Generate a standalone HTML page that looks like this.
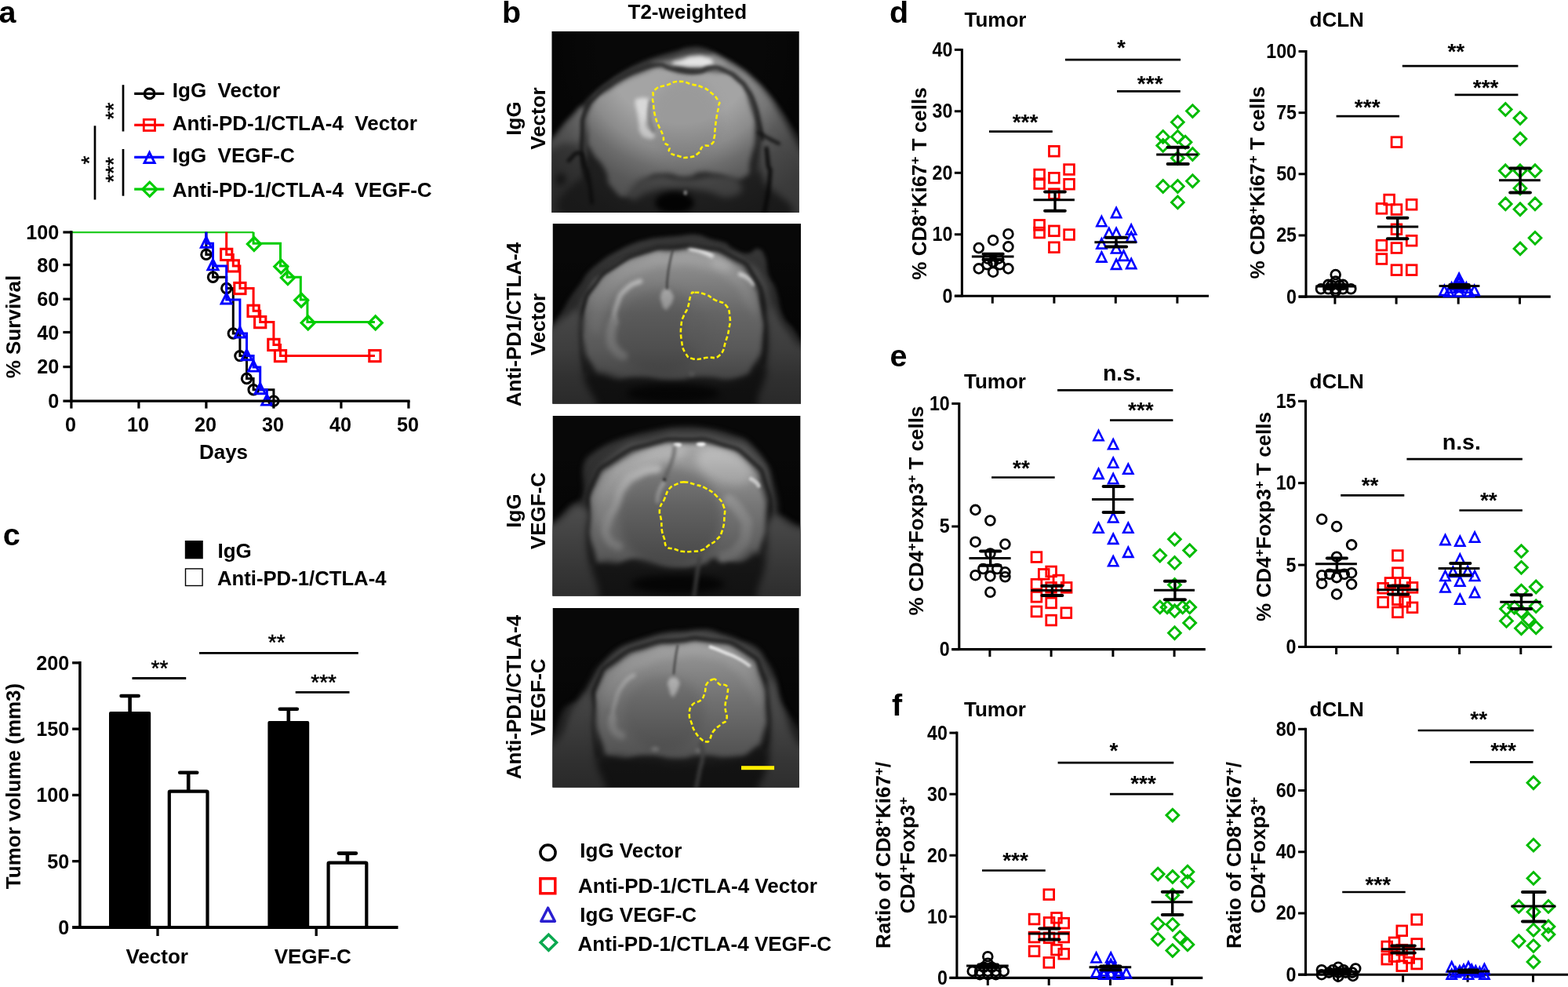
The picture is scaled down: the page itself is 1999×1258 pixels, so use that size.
<!DOCTYPE html>
<html lang="en">
<head>
<meta charset="utf-8">
<title>Figure</title>
<style>
html,body{margin:0;padding:0;background:#fff;}
body{width:1999px;height:1258px;overflow:hidden;}
svg{display:block;font-family:"Liberation Sans",sans-serif;}
</style>
</head>
<body>
<svg width="1999" height="1258" viewBox="0 0 1999 1258">
<rect width="1999" height="1258" fill="#fff"/>
<text x="-1.6" y="28.8" font-size="39.5" font-weight="bold" text-anchor="start" fill="#000">a</text>
<line x1="157" y1="108.2" x2="157" y2="167.5" stroke="#000" stroke-width="2.7" stroke-linecap="butt"/>
<line x1="121" y1="160.3" x2="121" y2="254.5" stroke="#000" stroke-width="2.7" stroke-linecap="butt"/>
<line x1="157" y1="190" x2="157" y2="249.7" stroke="#000" stroke-width="2.7" stroke-linecap="butt"/>
<text x="153.7" y="141.5" font-size="28" font-weight="normal" text-anchor="middle" fill="#000" transform="rotate(-90 153.7 141.5)" stroke="#000" stroke-width="0.5">**</text>
<text x="153.7" y="216.5" font-size="28" font-weight="normal" text-anchor="middle" fill="#000" transform="rotate(-90 153.7 216.5)" stroke="#000" stroke-width="0.5">***</text>
<text x="123.3" y="204" font-size="28" font-weight="normal" text-anchor="middle" fill="#000" transform="rotate(-90 123.3 204)" stroke="#000" stroke-width="0.5">*</text>
<line x1="171.2" y1="119.4" x2="209.3" y2="119.4" stroke="#000" stroke-width="3.2" stroke-linecap="butt"/>
<circle cx="190.6" cy="119.4" r="6.3" fill="none" stroke="#000" stroke-width="3.2"/>
<text x="219.8" y="124.3" font-size="26" font-weight="bold" text-anchor="start" fill="#000">IgG&#160;&#160;Vector</text>
<line x1="171.2" y1="159.4" x2="209.3" y2="159.4" stroke="#f00" stroke-width="3.2" stroke-linecap="butt"/>
<rect x="183.3" y="152.3" width="14.2" height="14.2" fill="none" stroke="#f00" stroke-width="2.8"/>
<text x="219.8" y="165.8" font-size="26" font-weight="bold" text-anchor="start" fill="#000">Anti-PD-1/CTLA-4&#160;&#160;Vector</text>
<line x1="171.2" y1="200.3" x2="209.3" y2="200.3" stroke="#00f" stroke-width="3.2" stroke-linecap="butt"/>
<path d="M190.6 194.3 L197.2 207.5 L184 207.5 Z" fill="none" stroke="#00f" stroke-width="2.9" stroke-linejoin="miter"/>
<text x="219.8" y="206.5" font-size="26" font-weight="bold" text-anchor="start" fill="#000">IgG&#160;&#160;VEGF-C</text>
<line x1="171.2" y1="241.2" x2="209.3" y2="241.2" stroke="#0c0" stroke-width="3.2" stroke-linecap="butt"/>
<path d="M190.8 232.1 L199.9 241.2 L190.8 250.3 L181.7 241.2 Z" fill="none" stroke="#0c0" stroke-width="3.1" stroke-linejoin="miter"/>
<text x="219.8" y="251.2" font-size="26" font-weight="bold" text-anchor="start" fill="#000">Anti-PD-1/CTLA-4&#160;&#160;VEGF-C</text>
<line x1="90.9" y1="296.1" x2="323.1" y2="296.1" stroke="#2c2" stroke-width="2.2" stroke-linecap="butt"/>
<polyline points="262.9,295.8 262.9,324.4 271.5,324.4 271.5,353.3 288.7,353.3 288.7,367.5 297.3,367.5 297.3,425 305.9,425 305.9,453.6 314.5,453.6 314.5,482.5 323.1,482.5 323.1,496.7 348.9,496.7 348.9,511.1" fill="none" stroke="#000" stroke-width="3" stroke-linejoin="miter"/>
<circle cx="262.9" cy="324.4" r="6.2" fill="none" stroke="#000" stroke-width="3"/>
<circle cx="271.5" cy="353.3" r="6.2" fill="none" stroke="#000" stroke-width="3"/>
<circle cx="288.7" cy="367.5" r="6.2" fill="none" stroke="#000" stroke-width="3"/>
<circle cx="297.3" cy="425" r="6.2" fill="none" stroke="#000" stroke-width="3"/>
<circle cx="305.9" cy="453.6" r="6.2" fill="none" stroke="#000" stroke-width="3"/>
<circle cx="314.5" cy="482.5" r="6.2" fill="none" stroke="#000" stroke-width="3"/>
<circle cx="323.1" cy="496.7" r="6.2" fill="none" stroke="#000" stroke-width="3"/>
<circle cx="348.9" cy="511.1" r="6.2" fill="none" stroke="#000" stroke-width="3"/>
<polyline points="323.1,295.8 323.1,310.2 357.5,310.2 357.5,338.9 366.1,338.9 366.1,353.3 383.3,353.3 383.3,381.9 391.9,381.9 391.9,410.6 477.9,410.6" fill="none" stroke="#0c0" stroke-width="3" stroke-linejoin="miter"/>
<path d="M323.9 302.5 L332.4 311 L323.9 319.5 L315.4 311 Z" fill="none" stroke="#0c0" stroke-width="3.2" stroke-linejoin="miter"/>
<path d="M358.3 331.2 L366.8 339.7 L358.3 348.2 L349.8 339.7 Z" fill="none" stroke="#0c0" stroke-width="3.2" stroke-linejoin="miter"/>
<path d="M366.9 345.6 L375.4 354.1 L366.9 362.6 L358.4 354.1 Z" fill="none" stroke="#0c0" stroke-width="3.2" stroke-linejoin="miter"/>
<path d="M384.1 374.2 L392.6 382.7 L384.1 391.2 L375.6 382.7 Z" fill="none" stroke="#0c0" stroke-width="3.2" stroke-linejoin="miter"/>
<path d="M392.7 402.8 L401.2 411.4 L392.7 419.9 L384.2 411.4 Z" fill="none" stroke="#0c0" stroke-width="3.2" stroke-linejoin="miter"/>
<path d="M478.7 402.8 L487.2 411.4 L478.7 419.9 L470.2 411.4 Z" fill="none" stroke="#0c0" stroke-width="3.2" stroke-linejoin="miter"/>
<polyline points="288.7,295.8 288.7,324.4 297.3,324.4 297.3,338.9 305.9,338.9 305.9,367.5 323.1,367.5 323.1,396.3 331.7,396.3 331.7,410.6 348.9,410.6 348.9,439.4 357.5,439.4 357.5,453.6 477.9,453.6" fill="none" stroke="#f00" stroke-width="3" stroke-linejoin="miter"/>
<rect x="281.6" y="317.3" width="14.2" height="14.2" fill="none" stroke="#f00" stroke-width="3.1"/>
<rect x="290.2" y="331.8" width="14.2" height="14.2" fill="none" stroke="#f00" stroke-width="3.1"/>
<rect x="298.8" y="360.4" width="14.2" height="14.2" fill="none" stroke="#f00" stroke-width="3.1"/>
<rect x="316" y="389.2" width="14.2" height="14.2" fill="none" stroke="#f00" stroke-width="3.1"/>
<rect x="324.6" y="403.5" width="14.2" height="14.2" fill="none" stroke="#f00" stroke-width="3.1"/>
<rect x="341.8" y="432.3" width="14.2" height="14.2" fill="none" stroke="#f00" stroke-width="3.1"/>
<rect x="350.4" y="446.5" width="14.2" height="14.2" fill="none" stroke="#f00" stroke-width="3.1"/>
<rect x="470.8" y="446.5" width="14.2" height="14.2" fill="none" stroke="#f00" stroke-width="3.1"/>
<polyline points="262.9,295.8 262.9,310.2 271.5,310.2 271.5,338.9 288.7,338.9 288.7,381.9 305.9,381.9 305.9,425 314.5,425 314.5,453.6 323.1,453.6 323.1,468 331.7,468 331.7,496.7 340.3,496.7 340.3,511.1" fill="none" stroke="#00f" stroke-width="3" stroke-linejoin="miter"/>
<path d="M262.9 302.2 L269.4 315.3 L256.3 315.3 Z" fill="none" stroke="#00f" stroke-width="2.9" stroke-linejoin="miter"/>
<path d="M271.5 330.8 L278.1 343.9 L264.9 343.9 Z" fill="none" stroke="#00f" stroke-width="2.9" stroke-linejoin="miter"/>
<path d="M288.7 373.9 L295.2 387 L282.1 387 Z" fill="none" stroke="#00f" stroke-width="2.9" stroke-linejoin="miter"/>
<path d="M305.9 416.9 L312.4 430 L299.3 430 Z" fill="none" stroke="#00f" stroke-width="2.9" stroke-linejoin="miter"/>
<path d="M314.5 445.6 L321.1 458.7 L307.9 458.7 Z" fill="none" stroke="#00f" stroke-width="2.9" stroke-linejoin="miter"/>
<path d="M323.1 460 L329.7 473.1 L316.6 473.1 Z" fill="none" stroke="#00f" stroke-width="2.9" stroke-linejoin="miter"/>
<path d="M331.7 488.6 L338.2 501.7 L325.1 501.7 Z" fill="none" stroke="#00f" stroke-width="2.9" stroke-linejoin="miter"/>
<path d="M340.3 503.1 L346.8 516.1 L333.7 516.1 Z" fill="none" stroke="#00f" stroke-width="2.9" stroke-linejoin="miter"/>
<line x1="90.9" y1="294.2" x2="90.9" y2="512.7" stroke="#000" stroke-width="3.4" stroke-linecap="butt"/>
<line x1="80.4" y1="511.1" x2="522.6" y2="511.1" stroke="#000" stroke-width="3.4" stroke-linecap="butt"/>
<line x1="80.4" y1="467.6" x2="90.9" y2="467.6" stroke="#000" stroke-width="3.2" stroke-linecap="butt"/>
<line x1="80.4" y1="423.5" x2="90.9" y2="423.5" stroke="#000" stroke-width="3.2" stroke-linecap="butt"/>
<line x1="80.4" y1="381.2" x2="90.9" y2="381.2" stroke="#000" stroke-width="3.2" stroke-linecap="butt"/>
<line x1="80.4" y1="337.6" x2="90.9" y2="337.6" stroke="#000" stroke-width="3.2" stroke-linecap="butt"/>
<line x1="80.4" y1="296" x2="90.9" y2="296" stroke="#000" stroke-width="3.2" stroke-linecap="butt"/>
<line x1="90.9" y1="511.1" x2="90.9" y2="520.6" stroke="#000" stroke-width="3.2" stroke-linecap="butt"/>
<line x1="176.9" y1="511.1" x2="176.9" y2="520.6" stroke="#000" stroke-width="3.2" stroke-linecap="butt"/>
<line x1="262.9" y1="511.1" x2="262.9" y2="520.6" stroke="#000" stroke-width="3.2" stroke-linecap="butt"/>
<line x1="348.9" y1="511.1" x2="348.9" y2="520.6" stroke="#000" stroke-width="3.2" stroke-linecap="butt"/>
<line x1="434.9" y1="511.1" x2="434.9" y2="520.6" stroke="#000" stroke-width="3.2" stroke-linecap="butt"/>
<line x1="520.9" y1="511.1" x2="520.9" y2="520.6" stroke="#000" stroke-width="3.2" stroke-linecap="butt"/>
<text transform="translate(75.3 520.3) scale(0.95 1)" font-size="26.5" font-weight="bold" text-anchor="end">0</text>
<text transform="translate(75.3 476.3) scale(0.95 1)" font-size="26.5" font-weight="bold" text-anchor="end">20</text>
<text transform="translate(75.3 432.6) scale(0.95 1)" font-size="26.5" font-weight="bold" text-anchor="end">40</text>
<text transform="translate(75.3 390.1) scale(0.95 1)" font-size="26.5" font-weight="bold" text-anchor="end">60</text>
<text transform="translate(75.3 346.6) scale(0.95 1)" font-size="26.5" font-weight="bold" text-anchor="end">80</text>
<text transform="translate(75.3 304.5) scale(0.95 1)" font-size="26.5" font-weight="bold" text-anchor="end">100</text>
<text transform="translate(90.1 550.3) scale(0.95 1)" font-size="26.5" font-weight="bold" text-anchor="middle">0</text>
<text transform="translate(176.1 550.3) scale(0.95 1)" font-size="26.5" font-weight="bold" text-anchor="middle">10</text>
<text transform="translate(262.1 550.3) scale(0.95 1)" font-size="26.5" font-weight="bold" text-anchor="middle">20</text>
<text transform="translate(348.1 550.3) scale(0.95 1)" font-size="26.5" font-weight="bold" text-anchor="middle">30</text>
<text transform="translate(434.1 550.3) scale(0.95 1)" font-size="26.5" font-weight="bold" text-anchor="middle">40</text>
<text transform="translate(520.1 550.3) scale(0.95 1)" font-size="26.5" font-weight="bold" text-anchor="middle">50</text>
<text x="26" y="416.5" font-size="26" font-weight="bold" text-anchor="middle" fill="#000" transform="rotate(-90 26 416.5)">% Survival</text>
<text x="285" y="585" font-size="26" font-weight="bold" text-anchor="middle" fill="#000">Days</text>
<text x="3.8" y="695" font-size="39.5" font-weight="bold" text-anchor="start" fill="#000">c</text>
<rect x="235.8" y="689" width="23" height="23.3" fill="#000"/>
<rect x="236.5" y="724.9" width="21.6" height="21.6" fill="#fff" stroke="#000" stroke-width="1.4"/>
<text x="277.5" y="711.3" font-size="26" font-weight="bold" text-anchor="start" fill="#000">IgG</text>
<text x="277" y="746" font-size="25.7" font-weight="bold" text-anchor="start" fill="#000">Anti-PD-1/CTLA-4</text>
<line x1="165.6" y1="887" x2="165.6" y2="908.9" stroke="#000" stroke-width="4.6" stroke-linecap="butt"/>
<line x1="154.6" y1="887" x2="176.6" y2="887" stroke="#000" stroke-width="4.6" stroke-linecap="round"/>
<rect x="139" y="907.1" width="53.2" height="274.9" rx="2" fill="#000"/>
<line x1="240.2" y1="984.7" x2="240.2" y2="1008.3" stroke="#000" stroke-width="4.6" stroke-linecap="butt"/>
<line x1="229.2" y1="984.7" x2="251.2" y2="984.7" stroke="#000" stroke-width="4.6" stroke-linecap="round"/>
<rect x="215.8" y="1008.6" width="48.7" height="173.4" rx="1" fill="#fff" stroke="#000" stroke-width="4.2"/>
<line x1="367.8" y1="903.8" x2="367.8" y2="920.7" stroke="#000" stroke-width="4.6" stroke-linecap="butt"/>
<line x1="356.8" y1="903.8" x2="378.8" y2="903.8" stroke="#000" stroke-width="4.6" stroke-linecap="round"/>
<rect x="341.4" y="918.9" width="52.8" height="263.1" rx="2" fill="#000"/>
<line x1="442.9" y1="1087.6" x2="442.9" y2="1099.4" stroke="#000" stroke-width="4.6" stroke-linecap="butt"/>
<line x1="431.9" y1="1087.6" x2="453.9" y2="1087.6" stroke="#000" stroke-width="4.6" stroke-linecap="round"/>
<rect x="418.6" y="1099.7" width="48.7" height="82.3" rx="1" fill="#fff" stroke="#000" stroke-width="4.2"/>
<line x1="101.9" y1="843.1" x2="101.9" y2="1183.7" stroke="#000" stroke-width="3.5" stroke-linecap="butt"/>
<line x1="92.1" y1="1182" x2="507.5" y2="1182" stroke="#000" stroke-width="3.8" stroke-linecap="butt"/>
<line x1="92.1" y1="1097.7" x2="101.9" y2="1097.7" stroke="#000" stroke-width="3.3" stroke-linecap="butt"/>
<line x1="92.1" y1="1013.4" x2="101.9" y2="1013.4" stroke="#000" stroke-width="3.3" stroke-linecap="butt"/>
<line x1="92.1" y1="929.1" x2="101.9" y2="929.1" stroke="#000" stroke-width="3.3" stroke-linecap="butt"/>
<line x1="92.1" y1="844.8" x2="101.9" y2="844.8" stroke="#000" stroke-width="3.3" stroke-linecap="butt"/>
<line x1="201" y1="1182" x2="201" y2="1193" stroke="#000" stroke-width="3.3" stroke-linecap="butt"/>
<line x1="403.2" y1="1182" x2="403.2" y2="1193" stroke="#000" stroke-width="3.3" stroke-linecap="butt"/>
<text transform="translate(88.3 1190.8) scale(0.95 1)" font-size="26.5" font-weight="bold" text-anchor="end">0</text>
<text transform="translate(88.3 1106.5) scale(0.95 1)" font-size="26.5" font-weight="bold" text-anchor="end">50</text>
<text transform="translate(88.3 1022.2) scale(0.95 1)" font-size="26.5" font-weight="bold" text-anchor="end">100</text>
<text transform="translate(88.3 937.9) scale(0.95 1)" font-size="26.5" font-weight="bold" text-anchor="end">150</text>
<text transform="translate(88.3 853.6) scale(0.95 1)" font-size="26.5" font-weight="bold" text-anchor="end">200</text>
<text x="25.8" y="1002" font-size="26" font-weight="bold" text-anchor="middle" fill="#000" transform="rotate(-90 25.8 1002)">Tumor volume (mm3)</text>
<text x="200.2" y="1227.7" font-size="26" font-weight="bold" text-anchor="middle" fill="#000">Vector</text>
<text x="398.8" y="1227.7" font-size="26" font-weight="bold" text-anchor="middle" fill="#000">VEGF-C</text>
<line x1="168.5" y1="864.5" x2="237.2" y2="864.5" stroke="#000" stroke-width="2.8" stroke-linecap="butt"/>
<text x="203.5" y="860.6" font-size="28" font-weight="normal" text-anchor="middle" fill="#000" stroke="#000" stroke-width="0.5">**</text>
<line x1="254" y1="832.3" x2="456.8" y2="832.3" stroke="#000" stroke-width="2.8" stroke-linecap="butt"/>
<text x="352.7" y="827.5" font-size="28" font-weight="normal" text-anchor="middle" fill="#000" stroke="#000" stroke-width="0.5">**</text>
<line x1="376.7" y1="882.3" x2="445.5" y2="882.3" stroke="#000" stroke-width="2.8" stroke-linecap="butt"/>
<text x="412.6" y="878.5" font-size="28" font-weight="normal" text-anchor="middle" fill="#000" stroke="#000" stroke-width="0.5">***</text>
<text x="639.9" y="28.8" font-size="39.5" font-weight="bold" text-anchor="start" fill="#000">b</text>
<text x="800.5" y="23.6" font-size="26" font-weight="bold" text-anchor="start" fill="#000">T2-weighted</text>
<defs><filter id="f1_1p5" color-interpolation-filters="sRGB" filterUnits="userSpaceOnUse" x="663.4" y="-0.1" width="395.4" height="311.1"><feGaussianBlur stdDeviation="1.5"/></filter><filter id="f1_2" color-interpolation-filters="sRGB" filterUnits="userSpaceOnUse" x="663.4" y="-0.1" width="395.4" height="311.1"><feGaussianBlur stdDeviation="2"/></filter><filter id="f1_2p5" color-interpolation-filters="sRGB" filterUnits="userSpaceOnUse" x="663.4" y="-0.1" width="395.4" height="311.1"><feGaussianBlur stdDeviation="2.5"/></filter><filter id="f1_3" color-interpolation-filters="sRGB" filterUnits="userSpaceOnUse" x="663.4" y="-0.1" width="395.4" height="311.1"><feGaussianBlur stdDeviation="3"/></filter><filter id="f1_3p5" color-interpolation-filters="sRGB" filterUnits="userSpaceOnUse" x="663.4" y="-0.1" width="395.4" height="311.1"><feGaussianBlur stdDeviation="3.5"/></filter><filter id="f1_4" color-interpolation-filters="sRGB" filterUnits="userSpaceOnUse" x="663.4" y="-0.1" width="395.4" height="311.1"><feGaussianBlur stdDeviation="4"/></filter><filter id="f1_5" color-interpolation-filters="sRGB" filterUnits="userSpaceOnUse" x="663.4" y="-0.1" width="395.4" height="311.1"><feGaussianBlur stdDeviation="5"/></filter><filter id="f1_7" color-interpolation-filters="sRGB" filterUnits="userSpaceOnUse" x="663.4" y="-0.1" width="395.4" height="311.1"><feGaussianBlur stdDeviation="7"/></filter></defs>
<clipPath id="cp1"><rect x="703.4" y="39.9" width="315.4" height="231.1"/></clipPath>
<g clip-path="url(#cp1)">
<rect x="703.4" y="39.9" width="315.4" height="231.1" fill="#080808"/>
<path d="M683.1 200.9 C699 184.4 695.2 188 703.7 178 C712.3 168 711 168.2 719.6 158 C728.3 147.8 731.6 144.1 740.9 134.3 C750.2 124.5 750.8 123.4 759.4 115.8 C768 108.3 769.2 108 777.9 101.9 C786.5 95.9 787.8 95 796.3 90 C804.9 85 806 84.6 814.6 80.7 C823.2 76.8 824.7 76.3 833.3 73.3 C841.9 70.3 844.4 69.9 851.6 67.8 C858.8 65.6 857.8 65.9 864.1 64.2 C870.4 62.4 870.9 60.9 878.6 60.2 C886.2 59.5 888.3 58.9 896.9 61 C905.5 63.1 906.7 64.8 915.4 69.3 C924 73.8 925.2 74.7 933.8 80.3 C942.5 85.8 943.7 86.3 952.3 93.2 C960.9 100.1 963.3 102.6 970.8 109.9 C978.3 117.2 978.1 116.8 984.5 124.6 C990.9 132.3 993 135.4 998.4 143.1 C1003.8 150.8 1002.3 149.6 1007.5 157.6 C1012.8 165.5 1014 166.9 1020.9 177 C1027.7 187.1 1024.7 184.2 1036.8 200.9 C1048.8 217.6 1064.2 218.9 1072.5 248.6 C1080.9 278.2 1174.5 309.5 1072.5 328 C970.5 346.6 737.4 346.6 635.4 328 C533.4 309.5 624.3 278.2 635.4 248.6 C646.5 218.9 667.1 217.3 683.1 200.9Z" fill="#3a3a3a" filter="url(#f1_2p5)"/>
<path d="M718.8 189 C720.2 171.7 722.8 175.7 734.7 157.2 C746.7 138.6 741.4 146.6 754.6 133.3 C767.9 120.1 761.2 127 774.5 117.4 C787.7 107.8 779.8 113.1 794.3 104.5 C808.9 95.9 803.6 98.5 818.2 91.6 C832.8 84.6 826.1 87.6 838.1 83.6 C850 79.7 846 77.7 854 79.7 C861.9 81.7 868.5 85 861.9 89.6 C855.3 94.2 852.6 87.6 834.1 93.6 C815.5 99.5 823.5 97.6 806.3 107.5 C789 117.4 797 112.1 782.4 123.4 C767.9 134.6 773.2 127.4 762.6 141.3 C752 155.2 756.6 147.9 750.6 165.1 C744.7 182.3 751.3 178.4 744.7 192.9 C738.1 207.5 739.4 210.2 730.8 208.8 C722.2 207.5 717.5 206.2 718.8 189Z" fill="#5c5c5c" filter="url(#f1_3)"/>
<path d="M699 189 C702.3 175 702.9 180.3 712.9 167.1 C722.8 153.9 718.2 159.2 728.8 149.2 C739.4 139.3 738.6 134.6 744.7 137.3 C750.8 139.9 747.4 142.6 747.1 157.2 C746.7 171.7 744.5 166.4 743.7 181 C742.9 195.6 751 192.9 744.7 200.9 C738.4 208.8 738.7 202.2 724.8 204.9 C710.9 207.5 711.6 214.1 702.9 208.8 C694.3 203.5 695.7 202.9 699 189Z" fill="#9a9a9a" filter="url(#f1_3p5)"/>
<path d="M905.6 70.7 C911.6 67.1 911.6 71.4 923.5 76.7 C935.4 82 929.5 78.7 941.4 86.6 C953.3 94.6 947.3 89.6 959.3 100.5 C971.2 111.5 965.9 105.2 977.1 119.4 C988.4 133.7 983.1 127.4 993 143.3 C1003 159.2 996.4 147.9 1007 167.1 C1017.5 186.3 1014.9 180.3 1024.8 200.9 C1034.8 221.4 1032.8 199.6 1036.8 228.7 C1040.7 257.8 1055.3 268.4 1036.8 288.3 C1018.2 308.2 1002.3 314.8 981.1 288.3 C959.9 261.8 976.5 247.2 973.2 208.8 C969.9 170.4 975.2 198.2 971.2 173.1 C967.2 147.9 969.9 155.8 961.3 133.3 C952.6 110.8 957.3 119.4 945.4 105.5 C933.4 91.6 938.7 97.6 925.5 91.6 C912.2 85.6 912.2 94.6 905.6 87.6 C899 80.7 899.7 74.4 905.6 70.7Z" fill="#8a8a8a" filter="url(#f1_3p5)"/>
<path d="M973.2 181 C979.8 146.6 979.8 178.4 993 185 C1006.3 191.6 998.3 186.3 1012.9 200.9 C1027.5 215.4 1028.8 199.6 1036.8 228.7 C1044.7 257.8 1057.9 268.4 1036.8 288.3 C1015.6 308.2 994.4 324.1 973.2 288.3 C952 252.5 966.6 215.4 973.2 181Z" fill="#868686" filter="url(#f1_5)" opacity="0.9"/>
<path d="M683.1 208.8 C691 175.7 692.4 197.6 706.9 189 C721.5 180.3 714.9 181.7 726.8 183 C738.7 184.3 736.1 177.7 742.7 192.9 C749.3 208.2 742.7 196.9 746.7 228.7 C750.6 260.5 775.8 268.4 754.6 288.3 C733.4 308.2 706.9 314.8 683.1 288.3 C659.2 261.8 675.1 241.9 683.1 208.8Z" fill="#666" filter="url(#f1_5)"/>
<path d="M832.1 82.1 C825.5 78.7 840 79.9 854 76.1 C867.9 72.3 860.6 73.2 873.8 70.7 C887.1 68.3 881.8 68.1 893.7 68.7 C905.6 69.4 899 68.3 909.6 72.7 C920.2 77.2 926.8 77.6 925.5 82.1 C924.2 86.5 922.8 84.7 905.6 86 C888.4 87.4 898.3 87.4 873.8 86 C849.3 84.7 838.7 85.4 832.1 82.1Z" fill="#9a9a9a" filter="url(#f1_3)" opacity="0.7"/>
<path d="M856.9 80.7 C856.9 78 860.9 78.9 869.9 76.1 C878.8 73.2 873.8 73.2 883.8 72.1 C893.7 71 891.4 70.5 899.7 72.7 C907.9 74.9 907.3 74.9 908.6 78.7 C909.9 82.5 911.2 81.9 903.6 84 C896 86.2 897 85.2 885.7 85.2 C874.5 85.2 879.5 85.6 869.9 84 C860.2 82.5 856.9 83.3 856.9 80.7Z" fill="#e4e4e4" filter="url(#f1_2p5)"/>
<path d="M750.6 218.8 C766.5 202.2 759.9 234 794.3 238.6 C828.8 243.3 814.2 234.7 854 232.7 C893.7 230.7 880.4 236.6 913.6 232.7 C946.7 228.7 933.4 222.1 953.3 220.7 C973.2 219.4 965.2 206.2 973.2 228.7 C981.1 251.2 1052.7 268.4 977.1 288.3 C901.6 308.2 822.2 311.5 746.7 288.3 C671.2 265.1 734.7 235.3 750.6 218.8Z" fill="#3c3c3c" filter="url(#f1_5)"/>
<path d="M749 173.1 C748.7 153.9 743.2 155.5 753.6 135.3 C764.1 115.1 757.6 127 780.4 112.5 C803.3 97.9 800.3 100.4 822.2 91.6 C844 82.8 828.8 85.5 846 86 C863.2 86.6 852.6 91.5 873.8 93.2 C895 94.9 887.4 88.5 909.6 91.2 C931.8 93.8 924.4 85.8 940.4 101.1 C956.4 116.5 950.2 114.6 957.7 137.3 C965.2 159.9 963 147.9 962.8 169.1 C962.7 190.3 962.4 181.7 957.3 200.9 C952.1 220.1 961.9 219.8 947.3 226.7 C932.8 233.7 931.4 224.1 913.6 221.7 C895.7 219.4 906.9 218.4 893.7 219.8 C880.4 221.1 889.7 225.1 873.8 225.7 C857.9 226.4 863.2 220.4 846 221.7 C828.8 223.1 836.7 220.4 822.2 229.7 C807.6 239 816.2 246.2 802.3 249.6 C788.4 252.9 791 251.2 780.4 239.6 C769.8 228 779.1 230.4 770.5 214.8 C761.9 199.2 761.8 206.8 754.6 192.9 C747.5 179 749.4 192.3 749 173.1Z" fill="#a4a4a4" filter="url(#f1_3)"/>
<ellipse cx="873.8" cy="153.2" rx="45.7" ry="51.7" fill="#989898" filter="url(#f1_7)" opacity="0.8"/>
<path d="M806.3 236.6 C815.5 226.7 811.6 227.4 834.1 224.7 C856.6 222.1 847.3 228.7 873.8 228.7 C900.3 228.7 891 224.1 913.6 224.7 C936.1 225.4 934.8 222.1 941.4 230.7 C948 239.3 949.3 246.6 933.4 250.6 C917.5 254.5 918.2 245.9 893.7 242.6 C869.2 239.3 881.1 240 859.9 240.6 C838.7 241.3 848 240 830.1 244.6 C812.2 249.2 814.2 257.2 806.3 254.5 C798.3 251.9 797 246.6 806.3 236.6Z" fill="#7a7a7a" filter="url(#f1_4)"/>
<path d="M748.6 228.7 C746.7 220.7 744.8 223.4 742.7 204.9 C740.6 186.3 741.1 194.3 742.3 173.1 C743.5 151.9 740.2 158.5 746.3 141.3 C752.4 124 750 132.8 760.6 121.4 C771.1 110 765.9 115.6 777.9 107.1 C789.8 98.6 784.1 102.2 796.3 96 C808.6 89.7 800.8 92.9 814.6 88.4 C828.5 83.9 825.5 83.3 837.9 82.5 C850.2 81.7 844.2 84.2 851.6 86 C858.9 87.9 847.9 86.2 859.9 88 C872 89.9 872.4 92.1 887.7 91.6 C903.1 91.1 893.8 86.9 906 86.4 C918.3 86 912.2 84.8 924.5 90.2 C936.8 95.6 933.7 94.8 943 102.7 C952.2 110.6 946.2 104 952.3 113.8 C958.5 123.7 956.5 118.3 961.5 132.3 C966.4 146.4 963.8 141.1 967.2 156 C970.6 170.9 970.1 170 971.6 177" fill="none" stroke="#2c2c2c" stroke-width="5" stroke-linecap="round" filter="url(#f1_2)"/>
<ellipse cx="859.9" cy="258.5" rx="24.8" ry="13.9" fill="#060606" filter="url(#f1_3p5)"/>
<ellipse cx="873.8" cy="245.6" rx="2.4" ry="3.2" fill="#e0e0e0" filter="url(#f1_1p5)"/>
<path d="M809.8 129.3 C810.5 123.4 809.4 126.8 814.2 125.4 C819 123.9 819.6 123.7 824.2 125 C828.7 126.3 827.4 121.3 827.7 129.3 C828.1 137.4 826.3 138.6 825.1 149.2 C824 159.8 821.8 154.5 824.2 161.1 C826.5 167.8 828.8 164.5 832.1 169.1 C835.4 173.7 836.7 172.7 834.1 175 C831.4 177.4 830.1 178 824.2 176 C818.2 174.1 819.5 175.4 816.2 169.1 C812.9 162.8 815.5 165.8 814.2 157.2 C812.9 148.6 813.7 152.5 812.2 143.3 C810.8 134 809.2 135.3 809.8 129.3Z" fill="#d8d8d8" filter="url(#f1_2p5)"/>
<path d="M829.3 129.3 C828.9 136 826.9 136.6 828.1 149.2 C829.4 161.8 831.4 161.1 833.1 167.1" fill="none" stroke="#7a7a7a" stroke-width="3.5" stroke-linecap="round" filter="url(#f1_2)"/>
<path d="M724.8 204.9 C729.4 201.5 732.1 193.6 738.7 194.9 C745.3 196.2 740.7 197.6 744.7 208.8 C748.6 220.1 747.3 212.1 750.6 228.7 C753.9 245.3 753.3 248.6 754.6 258.5" fill="none" stroke="#181818" stroke-width="4.5" stroke-linecap="round" filter="url(#f1_2)"/>
<path d="M967.2 169.1 C971.8 171.7 972.5 172.4 981.1 177 C989.7 181.7 989.1 181 993 183" fill="none" stroke="#1c1c1c" stroke-width="4" stroke-linecap="round" filter="url(#f1_2)"/>
<path d="M977.1 189 C977.8 195.6 977.8 195.6 979.1 208.8 C980.5 222.1 983.1 205.5 981.1 228.7 C979.1 251.9 975.8 261.8 973.2 278.4" fill="none" stroke="#101010" stroke-width="5" stroke-linecap="round" filter="url(#f1_2)"/>
<ellipse cx="714.9" cy="228.7" rx="6" ry="7.9" fill="#2a2a2a" filter="url(#f1_4)"/>
<radialGradient id="rg1" gradientUnits="userSpaceOnUse" cx="868" cy="62" r="260"><stop offset="0.000" stop-color="#000" stop-opacity="0"/><stop offset="0.365" stop-color="#000" stop-opacity="0"/><stop offset="0.500" stop-color="#000" stop-opacity="0.15"/><stop offset="0.596" stop-color="#000" stop-opacity="0.34"/><stop offset="0.692" stop-color="#000" stop-opacity="0.46"/><stop offset="0.846" stop-color="#000" stop-opacity="0.56"/><stop offset="1.000" stop-color="#000" stop-opacity="0.6"/></radialGradient>
<rect x="701.4" y="37.9" width="319.4" height="235.1" fill="url(#rg1)"/>
<path d="M865.9 103.9 C876.5 103.6 872.5 105.3 881.8 107.5 C891 109.7 885.7 107.2 893.7 110.5 C901.6 113.8 898.3 111.5 905.6 117.4 C912.9 123.4 912 122.4 915.6 128.4 C919.1 134.3 916.8 128.4 916.1 135.3 C915.5 142.3 915.1 139.3 913.6 149.2 C912 159.2 912.6 156.5 911.6 165.1 C910.6 173.7 912.2 168.8 910.6 175 C908.9 181.3 911.6 180 906.6 184 C901.6 188 901 183.3 895.7 187 C890.4 190.6 896.7 190.4 890.7 194.9 C884.8 199.4 886.7 199.3 877.8 200.5 C868.9 201.7 871.8 200.7 863.9 198.5 C855.9 196.3 857.6 197.8 854 193.9 C850.3 190.1 855.3 191.3 853 187 C850.6 182.7 849.7 186 847 181 C844.4 176 847.3 178.7 845 172.1 C842.7 165.4 843.4 169.4 840 161.1 C836.7 152.9 837.4 156.5 835.1 147.2 C832.8 138 834 141.3 833.1 133.3 C832.2 125.4 831.5 130 832.5 123.4 C833.5 116.8 830.2 118.4 836.1 113.5 C841.9 108.5 840 111.7 850 108.5 C859.9 105.3 855.3 104.2 865.9 103.9Z" fill="none" stroke="#ffee00" stroke-width="2.6" stroke-linecap="butt" stroke-dasharray="5.5 3"/>
</g>
<defs><filter id="f2_1p5" color-interpolation-filters="sRGB" filterUnits="userSpaceOnUse" x="664.5" y="245.1" width="396.5" height="309.3"><feGaussianBlur stdDeviation="1.5"/></filter><filter id="f2_2" color-interpolation-filters="sRGB" filterUnits="userSpaceOnUse" x="664.5" y="245.1" width="396.5" height="309.3"><feGaussianBlur stdDeviation="2"/></filter><filter id="f2_2p5" color-interpolation-filters="sRGB" filterUnits="userSpaceOnUse" x="664.5" y="245.1" width="396.5" height="309.3"><feGaussianBlur stdDeviation="2.5"/></filter><filter id="f2_3" color-interpolation-filters="sRGB" filterUnits="userSpaceOnUse" x="664.5" y="245.1" width="396.5" height="309.3"><feGaussianBlur stdDeviation="3"/></filter><filter id="f2_3p5" color-interpolation-filters="sRGB" filterUnits="userSpaceOnUse" x="664.5" y="245.1" width="396.5" height="309.3"><feGaussianBlur stdDeviation="3.5"/></filter><filter id="f2_4" color-interpolation-filters="sRGB" filterUnits="userSpaceOnUse" x="664.5" y="245.1" width="396.5" height="309.3"><feGaussianBlur stdDeviation="4"/></filter><filter id="f2_5" color-interpolation-filters="sRGB" filterUnits="userSpaceOnUse" x="664.5" y="245.1" width="396.5" height="309.3"><feGaussianBlur stdDeviation="5"/></filter><filter id="f2_6" color-interpolation-filters="sRGB" filterUnits="userSpaceOnUse" x="664.5" y="245.1" width="396.5" height="309.3"><feGaussianBlur stdDeviation="6"/></filter><filter id="f2_7" color-interpolation-filters="sRGB" filterUnits="userSpaceOnUse" x="664.5" y="245.1" width="396.5" height="309.3"><feGaussianBlur stdDeviation="7"/></filter></defs>
<clipPath id="cp2"><rect x="704.5" y="285.1" width="316.5" height="229.3"/></clipPath>
<g clip-path="url(#cp2)">
<rect x="704.5" y="285.1" width="316.5" height="229.3" fill="#080808"/>
<path d="M683.1 445.9 C699.3 427.6 697.9 425.3 704.9 415.1 C712 404.9 708.1 410.6 713.3 402.2 C718.5 393.7 720.7 388.5 727.2 378.7 C733.6 369 735.6 367.9 740.9 360.4 C746.2 353 743.6 353.7 750 346.9 C756.5 340.1 759.9 337.5 768.5 331.2 C777.1 325 778.4 324.8 787 320.1 C795.6 315.4 796.9 314.4 805.5 311 C814.1 307.5 815.3 307.3 824 305.4 C832.6 303.5 833.1 303.7 842.4 302.6 C851.8 301.6 853.5 301.7 864.1 300.8 C874.7 300 878 298.1 887.7 299 C897.5 300 897.4 302.3 906 304.8 C914.6 307.3 918 306.8 924.5 309.6 C931 312.4 927.3 313.6 933.8 316.7 C940.3 319.9 944.8 323 952.3 323.1 C959.8 323.2 960.6 316.1 966 317.1 C971.4 318.2 972.1 319.9 975.4 327.7 C978.6 335.4 976.7 340.8 979.9 350.5 C983.2 360.2 985 357.1 989.3 369.2 C993.6 381.2 993 390.4 998.4 402.2 C1003.8 413.9 1006.1 410.4 1012.3 419.7 C1018.5 428.9 1019.1 431.1 1024.8 441.9 C1030.5 452.7 1025.6 453.7 1036.8 465.7 C1047.9 477.8 1064.2 468.5 1072.5 493.6 C1080.9 518.6 1174.5 554.5 1072.5 573 C970.5 591.6 737.4 591.6 635.4 573 C533.4 554.5 624.3 523.2 635.4 493.6 C646.5 463.9 666.9 464.2 683.1 445.9Z" fill="#363636" filter="url(#f2_2p5)"/>
<path d="M724.8 434 C727.5 405.5 726.8 419.4 734.7 398.2 C742.7 377 736.7 386.9 748.6 370.4 C760.6 353.8 753.9 361.1 770.5 348.5 C787.1 335.9 778.5 341.6 798.3 332.6 C818.2 323.7 808.3 327.3 830.1 321.7 C852 316.1 842.7 317.7 863.9 315.7 C885.1 313.7 873.8 313.7 893.7 315.7 C913.6 317.7 903.6 315.4 923.5 321.7 C943.4 328 936.7 323.7 953.3 334.6 C969.9 345.5 963.2 338.6 973.2 354.5 C983.1 370.4 976.5 362.4 983.1 382.3 C989.7 402.2 985.8 395.5 993 414.1 C1000.3 432.6 998.3 418.1 1005 437.9 C1011.6 457.8 1020.2 455.2 1012.9 473.7 C1005.6 492.2 994.4 513.4 983.1 493.6 C971.8 473.7 988.4 459.1 979.1 414.1 C969.9 369 983.8 388.9 955.3 358.5 C926.8 328 934.1 333.9 893.7 322.7 C853.3 311.4 873.2 313.4 834.1 324.7 C795 335.9 805.6 330 776.5 356.5 C747.3 383 757.9 371.7 746.7 404.2 C735.4 436.6 749.3 427.3 742.7 453.8 C736.1 480.3 732.8 490.3 726.8 483.6 C720.8 477 722.2 462.4 724.8 434Z" fill="#555" filter="url(#f2_3p5)"/>
<path d="M743.7 414.1 C745.7 392.2 738.4 397.9 750.6 374.3 C762.9 350.8 755.9 360.4 780.4 343.5 C804.9 326.7 799 331.4 824.2 323.7 C849.3 315.9 832.8 321.4 855.9 320.3 C879.1 319.2 869.2 316.5 893.7 320.3 C918.2 324.1 908.6 319.6 929.5 331.6 C950.3 343.7 942.8 335.6 956.3 356.5 C969.7 377.3 964.5 369.7 969.8 394.2 C975.1 418.7 974.7 406.8 972.2 430 C969.7 453.2 972.5 446.5 962.2 463.8 C952 481 964.2 476 941.4 481.6 C918.5 487.3 921.5 479.7 893.7 480.6 C865.9 481.6 884.4 484.6 857.9 484.6 C831.4 484.6 842 480.3 814.2 480.6 C786.4 481 794.3 491.2 774.5 485.6 C754.6 480 764.5 479 754.6 463.8 C744.7 448.5 748.3 456.5 744.7 439.9 C741 423.4 741.7 435.9 743.7 414.1Z" fill="#989898" filter="url(#f2_3)"/>
<path d="M752.6 398.2 C755.3 375.7 747.3 381 770.5 358.5 C793.7 335.9 793.7 341.6 822.2 330.6 C850.6 319.7 832.1 327.3 855.9 325.7 C879.8 324 869.2 321.7 893.7 325.7 C918.2 329.6 908.9 323.3 929.5 337.6 C950 351.8 943.4 346.2 955.3 368.4 C967.2 390.6 967.2 398.2 965.2 404.2 C963.2 410.1 959.9 400.8 949.3 386.3 C938.7 371.7 952 375 933.4 360.4 C914.9 345.9 919.5 349.5 893.7 342.6 C867.9 335.6 879.1 338.6 855.9 339.6 C832.8 340.6 846 336.6 824.2 345.5 C802.3 354.5 807.6 348.8 790.4 366.4 C773.2 384 781.8 378.3 772.5 398.2 C763.2 418.1 769.2 426 762.6 426 C755.9 426 750 420.7 752.6 398.2Z" fill="#a8a8a8" filter="url(#f2_5)" opacity="0.85"/>
<ellipse cx="842" cy="422" rx="59.6" ry="53.6" fill="#868686" filter="url(#f2_7)" opacity="0.9"/>
<ellipse cx="899.7" cy="416.1" rx="27.8" ry="39.7" fill="#949494" filter="url(#f2_6)" opacity="0.7"/>
<path d="M816.2 358.5 C810.2 361.8 808.3 358.5 798.3 368.4 C788.4 378.3 791.7 374.3 786.4 388.3 C781.1 402.2 783.8 402.8 782.4 410.1" fill="none" stroke="#e0e0e0" stroke-width="6" stroke-linecap="round" filter="url(#f2_2p5)"/>
<path d="M782.4 410.1 C781.1 416.7 777.8 418.1 778.5 430 C779.1 441.9 779.1 437.9 784.4 445.9 C789.7 453.8 791 451.2 794.3 453.8" fill="none" stroke="#bcbcbc" stroke-width="12" stroke-linecap="round" filter="url(#f2_3)"/>
<path d="M843 374.3 C845.1 368.4 845.3 368.4 850 368.4 C854.6 368.4 854.3 369.7 856.9 374.3 C859.6 379 859.6 376.3 857.9 382.3 C856.3 388.3 855.3 388.3 852 392.2 C848.7 396.2 850.8 396.2 848 394.2 C845.2 392.2 845.3 392.9 843.6 386.3 C842 379.6 840.9 380.3 843 374.3Z" fill="#d0d0d0" filter="url(#f2_2)"/>
<path d="M857.9 317.7 C856.6 323.3 856.3 322.4 854 334.6 C851.6 346.9 852.2 343.5 851 354.5 C849.8 365.4 850.6 363.1 850.4 367.4" fill="none" stroke="#4a4a4a" stroke-width="2.5" stroke-linecap="round" filter="url(#f2_1p5)"/>
<path d="M879.8 317.1 C884.4 318.1 884.4 317.1 893.7 320.1 C903 323.1 903 324.1 907.6 326.1" fill="none" stroke="#f4f4f4" stroke-width="5" stroke-linecap="round" filter="url(#f2_2)"/>
<path d="M943.4 349.5 C946.7 351.2 947.7 350.2 953.3 354.5 C958.9 358.8 957.9 359.8 960.3 362.4" fill="none" stroke="#f0f0f0" stroke-width="5" stroke-linecap="round" filter="url(#f2_2)"/>
<ellipse cx="919.5" cy="338.6" rx="13.9" ry="6" fill="#bbb" filter="url(#f2_4)" opacity="0.8" transform="rotate(20 919.5 338.6)"/>
<path d="M744.7 473.7 C742.7 460.4 739.4 460.4 738.7 434 C738.1 407.5 736.1 418.1 742.7 394.2 C749.3 370.4 744.7 381 758.6 362.4 C772.5 343.9 762.6 352.8 784.4 338.6 C806.3 324.3 799.6 327.7 824.2 319.7 C848.7 311.8 834.7 316.4 857.9 314.7 C881.1 313.1 868.5 310.8 893.7 314.7 C918.9 318.7 910.9 314.1 933.4 326.7 C956 339.2 947.7 330 961.3 352.5 C974.8 375 968.9 367.1 974.2 394.2 C979.5 421.4 977.5 410.8 977.1 434 C976.8 457.1 974.5 453.8 973.2 463.8" fill="none" stroke="#222" stroke-width="5" stroke-linecap="round" filter="url(#f2_2)"/>
<path d="M744.7 481.6 C771.2 466.4 771.2 484.3 814.2 487.6 C857.3 490.9 834.1 491.2 873.8 491.6 C913.6 491.9 899 495.9 933.4 488.6 C967.9 481.3 957.3 454.8 977.1 469.7 C997 484.6 1073.8 512.1 993 533.3 C912.2 554.5 817.5 550.5 734.7 533.3 C651.9 516.1 718.2 496.9 744.7 481.6Z" fill="#262626" filter="url(#f2_5)"/>
<path d="M683.1 434 C689.7 395.5 689.7 428.7 702.9 418.1 C716.2 407.5 711.2 408.8 722.8 402.2 C734.4 395.5 732.1 387.6 737.7 398.2 C743.3 408.8 738.1 408.8 739.7 434 C741.4 459.1 737.7 440.6 742.7 473.7 C747.7 506.8 774.5 513.4 754.6 533.3 C734.7 553.2 706.9 566.4 683.1 533.3 C659.2 500.2 676.5 472.4 683.1 434Z" fill="#6a6a6a" filter="url(#f2_5)"/>
<path d="M981.1 394.2 C986.4 387.6 986.4 400.8 997 414.1 C1007.6 427.3 999.7 416.7 1012.9 434 C1026.2 451.2 1028.8 432.6 1036.8 465.7 C1044.7 498.9 1057.9 510.8 1036.8 533.3 C1015.6 555.8 992.4 556.5 973.2 533.3 C954 510.1 976.5 496.9 979.1 463.8 C981.8 430.6 980.5 457.1 981.1 434 C981.8 410.8 975.8 400.8 981.1 394.2Z" fill="#686868" filter="url(#f2_5)"/>
<ellipse cx="857.9" cy="501.5" rx="59.6" ry="11.9" fill="#0c0c0c" filter="url(#f2_5)"/>
<ellipse cx="881.8" cy="476.7" rx="3.6" ry="2.8" fill="#ccc" filter="url(#f2_2)" opacity="0.6"/>
<linearGradient id="g2" gradientUnits="userSpaceOnUse" x1="0" y1="285.1" x2="0" y2="514.4"><stop offset="0" stop-color="#000" stop-opacity="0"/><stop offset="0.15" stop-color="#000" stop-opacity="0"/><stop offset="0.5" stop-color="#000" stop-opacity="0.33"/><stop offset="0.7" stop-color="#000" stop-opacity="0.42"/><stop offset="0.85" stop-color="#000" stop-opacity="0.54"/><stop offset="1" stop-color="#000" stop-opacity="0.6"/></linearGradient>
<rect x="702.5" y="283.1" width="320.5" height="233.3" fill="url(#g2)"/>
<path d="M885.7 372.8 C890.8 372.5 892.8 372.8 899.7 375.3 C906.5 377.9 904.7 378.6 911.6 382.3 C918.5 386 920.5 383.4 925.5 389.2 C930.5 395.1 929.4 396.5 930.5 404.2 C931.5 411.8 930.8 410.1 929.5 418.1 C928.1 426 928.7 424.7 925.5 434 C922.3 443.2 923.9 447 917.5 452.8 C911.2 458.7 910.7 454.6 901.6 455.8 C892.6 457 891.2 459 883.8 457.4 C876.3 455.8 877.8 456.1 873.8 449.9 C869.9 443.6 870.3 443.5 868.9 434 C867.4 424.4 867.7 422.6 868.5 414.1 C869.3 405.6 869.6 408 871.8 402.2 C874.1 396.3 874.4 399.1 876.8 392.2 C879.2 385.3 878.4 381.5 880.8 376.3 C883.2 371.1 880.7 373 885.7 372.8Z" fill="none" stroke="#ffee00" stroke-width="2.6" stroke-linecap="butt" stroke-dasharray="5.5 3"/>
</g>
<defs><filter id="f3_1p5" color-interpolation-filters="sRGB" filterUnits="userSpaceOnUse" x="664.5" y="489.9" width="396.1" height="309.5"><feGaussianBlur stdDeviation="1.5"/></filter><filter id="f3_2" color-interpolation-filters="sRGB" filterUnits="userSpaceOnUse" x="664.5" y="489.9" width="396.1" height="309.5"><feGaussianBlur stdDeviation="2"/></filter><filter id="f3_3" color-interpolation-filters="sRGB" filterUnits="userSpaceOnUse" x="664.5" y="489.9" width="396.1" height="309.5"><feGaussianBlur stdDeviation="3"/></filter><filter id="f3_4" color-interpolation-filters="sRGB" filterUnits="userSpaceOnUse" x="664.5" y="489.9" width="396.1" height="309.5"><feGaussianBlur stdDeviation="4"/></filter><filter id="f3_5" color-interpolation-filters="sRGB" filterUnits="userSpaceOnUse" x="664.5" y="489.9" width="396.1" height="309.5"><feGaussianBlur stdDeviation="5"/></filter><filter id="f3_6" color-interpolation-filters="sRGB" filterUnits="userSpaceOnUse" x="664.5" y="489.9" width="396.1" height="309.5"><feGaussianBlur stdDeviation="6"/></filter></defs>
<clipPath id="cp3"><rect x="704.5" y="529.9" width="316.1" height="229.5"/></clipPath>
<g clip-path="url(#cp3)">
<rect x="704.5" y="529.9" width="316.1" height="229.5" fill="#080808"/>
<path d="M683.1 698.8 C697 685.3 696.6 681.3 704.9 671 C713.3 660.7 717.3 655.1 724.8 647.2 C732.4 639.2 738.9 642 742.7 631.3 C746.5 620.5 740.5 604.6 743.7 593.5 C746.9 582.4 749.2 582.4 758.6 575.6 C767.9 568.9 774.5 565.3 790.4 559.7 C806.3 554.2 822.2 551 838.1 547.8 C854 544.6 857.1 544.2 869.9 543.8 C882.6 543.4 888.9 543.8 901.6 545.8 C914.4 547.8 922.3 549.8 933.4 553.8 C944.6 557.8 948.1 556.6 957.3 565.7 C966.4 574.8 974 583.2 979.1 599.5 C984.3 615.8 977.9 634.4 983.1 647.2 C988.3 659.9 996.6 656.7 1005 663.1 C1013.3 669.4 1018.5 671.8 1024.8 679 C1031.2 686.1 1027.2 686.9 1036.8 698.8 C1046.3 710.7 1065.4 714.7 1072.5 738.6 C1079.7 762.4 1159.9 802.1 1072.5 818 C985.1 833.9 722.8 833.9 635.4 818 C548 802.1 625.9 762.4 635.4 738.6 C644.9 714.7 669.2 712.3 683.1 698.8Z" fill="#343434" filter="url(#f3_3)"/>
<path d="M752.6 623.3 C762.6 596.5 757.3 599.8 784.4 578.6 C811.6 557.4 804.3 568 834.1 559.7 C863.9 551.5 844 553.8 873.8 553.8 C903.6 553.8 893.7 551.1 923.5 559.7 C953.3 568.3 942.7 559.7 963.2 579.6 C983.8 599.5 977.1 592.9 985.1 619.3 C993 645.8 991.1 655.1 987.1 659.1 C983.1 663.1 984.4 651.8 973.2 631.3 C961.9 610.7 973.2 617 953.3 597.5 C933.4 578 940.1 582.9 913.6 572.7 C887.1 562.4 900.3 567.4 873.8 566.7 C847.3 566 860.6 563.4 834.1 570.7 C807.6 578 817.5 571 794.3 588.5 C771.2 606.1 777.8 599.8 764.5 623.3 C751.3 646.8 758.6 659.1 754.6 659.1 C750.6 659.1 742.7 650.1 752.6 623.3Z" fill="#585858" filter="url(#f3_4)"/>
<path d="M752.6 659.1 C753.9 631.9 748.6 640.4 760.6 617.4 C772.5 594.3 764.5 605.7 788.4 589.9 C812.2 574.2 803.6 578.3 832.1 570.1 C860.6 561.9 846 565.3 873.8 565.3 C901.6 565.3 889.1 561.2 915.6 570.1 C942 578.9 934.8 574.2 953.3 591.9 C971.8 609.7 963.6 600.9 971.2 623.3 C978.8 645.7 976.2 636.6 976.2 659.1 C976.2 681.6 978.8 672 971.2 690.9 C963.6 709.8 972.5 708.8 953.3 715.7 C934.1 722.7 933.4 710.4 913.6 711.7 C893.7 713.1 913.6 716.4 893.7 719.7 C873.8 723 880.4 724.3 854 721.7 C827.5 719 840.7 711.7 814.2 711.7 C787.7 711.7 793.7 726 774.5 721.7 C755.3 717.4 763.9 719.7 756.6 698.8 C749.3 678 751.3 686.2 752.6 659.1Z" fill="#a4a4a4" filter="url(#f3_3)"/>
<path d="M760.6 647.2 C761.9 626.6 759.2 629.9 774.5 609.4 C789.7 588.9 779.8 598.8 806.3 585.6 C832.8 572.3 831.4 571.7 854 569.7 C876.5 567.7 880.4 571 873.8 579.6 C867.2 588.2 859.3 583.6 834.1 595.5 C808.9 607.4 816.2 599.5 798.3 615.4 C780.4 631.3 789.7 624.6 780.4 643.2 C771.2 661.7 777.1 669.7 770.5 671 C763.9 672.3 759.2 667.7 760.6 647.2Z" fill="#b8b8b8" filter="url(#f3_5)" opacity="0.9"/>
<ellipse cx="923.5" cy="595.5" rx="37.8" ry="20.9" fill="#c4c4c4" filter="url(#f3_6)" opacity="0.9" transform="rotate(22 923.5 595.5)"/>
<ellipse cx="854" cy="659.1" rx="65.6" ry="63.6" fill="#888" filter="url(#f3_6)"/>
<path d="M838.1 597.5 C830.1 599.5 828.8 596.2 814.2 603.5 C799.6 610.7 804.3 606.1 794.3 619.3 C784.4 632.6 791 628 784.4 643.2 C777.8 658.4 777.8 651.1 774.5 665 C771.2 679 769.8 674.3 774.5 684.9 C779.1 695.5 783.8 692.9 788.4 696.8" fill="none" stroke="#c8c8c8" stroke-width="11" stroke-linecap="round" filter="url(#f3_3)"/>
<path d="M929.5 637.2 C934.8 643.2 938.1 642.5 945.4 655.1 C952.6 667.7 952.6 660.4 951.3 675 C950 689.6 951.3 686.9 941.4 698.8 C931.4 710.7 928.1 706.8 921.5 710.7" fill="none" stroke="#c0c0c0" stroke-width="14" stroke-linecap="round" filter="url(#f3_3)"/>
<ellipse cx="863.9" cy="566.7" rx="5" ry="2.8" fill="#f0f0f0" filter="url(#f3_1p5)"/>
<ellipse cx="893.7" cy="566.1" rx="6" ry="2.8" fill="#f8f8f8" filter="url(#f3_1p5)"/>
<path d="M957.3 610.4 C959.3 611.7 959.9 611.4 963.2 614.4 C966.6 617.4 965.9 617.7 967.2 619.3" fill="none" stroke="#f0f0f0" stroke-width="5" stroke-linecap="round" filter="url(#f3_1p5)"/>
<path d="M859.9 569.7 C859.3 574.3 860.6 573.6 857.9 583.6 C855.3 593.5 855.6 590.2 852 599.5 C848.3 608.8 848.7 607.4 847 611.4" fill="none" stroke="#6a6a6a" stroke-width="4" stroke-linecap="round" filter="url(#f3_2)"/>
<ellipse cx="847" cy="611.8" rx="2" ry="2.4" fill="#222" filter="url(#f3_1p5)"/>
<path d="M846 615.4 C844 619.3 842.7 619.3 840 627.3 C837.4 635.2 838.7 635.2 838.1 639.2" fill="none" stroke="#bbb" stroke-width="5" stroke-linecap="round" filter="url(#f3_2)"/>
<path d="M752.6 718.7 C750.8 708.8 748.5 708.8 747.1 688.9 C745.6 669 745.4 683.6 748.3 659.1 C751.1 634.6 743.5 640.2 755.6 615.4 C767.7 590.5 759.6 601.3 784.4 584.6 C809.2 567.9 800.3 573.4 830.1 565.3 C859.9 557.2 844.7 560.3 873.8 560.3 C903 560.3 889.7 556.6 917.5 565.3 C945.4 574 937.4 568.5 957.3 586.6 C977.1 604.6 968.7 595.2 977.1 619.3 C985.6 643.5 981.8 632.6 982.5 659.1 C983.2 685.6 980.3 685.6 979.1 698.8" fill="none" stroke="#242424" stroke-width="5" stroke-linecap="round" filter="url(#f3_2)"/>
<path d="M750.6 726.6 C777.1 707.4 773.2 720 814.2 720.7 C855.3 721.3 834.1 728.6 873.8 728.6 C913.6 728.6 900.3 726.6 933.4 720.7 C966.6 714.7 953.3 691.5 973.2 710.7 C993 730 1072.5 755.8 993 778.3 C913.6 800.8 815.5 795.5 734.7 778.3 C653.9 761.1 724.1 745.9 750.6 726.6Z" fill="#2a2a2a" filter="url(#f3_5)"/>
<ellipse cx="863.9" cy="744.5" rx="59.6" ry="11.9" fill="#0a0a0a" filter="url(#f3_5)"/>
<path d="M683.1 682.9 C691 645.8 686.4 679 706.9 667 C727.5 655.1 730.8 636.6 744.7 647.2 C758.6 657.8 745.3 655.1 748.6 698.8 C752 742.5 776.5 751.8 754.6 778.3 C732.8 804.8 706.9 810.1 683.1 778.3 C659.2 746.5 675.1 720 683.1 682.9Z" fill="#6c6c6c" filter="url(#f3_5)"/>
<path d="M981.1 663.1 C990.4 649.2 986.4 655.1 1005 667 C1023.5 679 1026.2 661.7 1036.8 698.8 C1047.4 735.9 1057.9 751.8 1036.8 778.3 C1015.6 804.8 993 801.5 973.2 778.3 C953.3 755.1 974.5 747.2 977.1 708.8 C979.8 670.3 971.8 677 981.1 663.1Z" fill="#6c6c6c" filter="url(#f3_5)"/>
<path d="M891.7 710.7 C890.4 720 890.4 719.4 887.7 738.6 C885.1 757.8 885.1 758.4 883.8 768.4" fill="none" stroke="#7a7a7a" stroke-width="5" stroke-linecap="round" filter="url(#f3_2)"/>
<linearGradient id="g3" gradientUnits="userSpaceOnUse" x1="0" y1="529.9" x2="0" y2="759.4"><stop offset="0" stop-color="#000" stop-opacity="0"/><stop offset="0.18" stop-color="#000" stop-opacity="0"/><stop offset="0.5" stop-color="#000" stop-opacity="0.28"/><stop offset="0.85" stop-color="#000" stop-opacity="0.5"/><stop offset="1" stop-color="#000" stop-opacity="0.58"/></linearGradient>
<rect x="702.5" y="527.9" width="320.1" height="233.5" fill="url(#g3)"/>
<path d="M871.8 614.4 C878.2 614.4 878.3 615.2 885.7 617.4 C893.2 619.5 892.2 618.4 899.7 622.3 C907.1 626.3 907.5 626.2 913.6 632.3 C919.7 638.4 919.9 638 922.5 645.2 C925.2 652.3 924 650.6 923.5 659.1 C923 667.6 923.2 669.3 920.5 677 C917.9 684.7 918.1 683.1 913.6 687.9 C909.1 692.7 908.4 691.4 903.6 694.9 C898.9 698.3 901 698.7 895.7 700.8 C890.4 702.9 890.6 702.3 883.8 702.8 C876.9 703.3 876.2 703.6 869.9 702.8 C863.5 702 865.2 701.4 859.9 699.8 C854.6 698.2 853.4 700.3 850 696.8 C846.5 693.4 848.6 692.2 847 686.9 C845.4 681.6 845.1 683.3 844 677 C843 670.6 843.8 670.5 843 663.1 C842.2 655.6 840 656.3 841 649.2 C842.1 642 843.8 643.1 847 636.2 C850.2 629.3 849 628.4 853 623.3 C856.9 618.3 856.9 619.7 861.9 617.4 C866.9 615 865.5 614.4 871.8 614.4Z" fill="none" stroke="#ffee00" stroke-width="2.6" stroke-linecap="butt" stroke-dasharray="5.5 3"/>
</g>
<defs><filter id="f4_1p5" color-interpolation-filters="sRGB" filterUnits="userSpaceOnUse" x="664.5" y="734.9" width="394.3" height="308.7"><feGaussianBlur stdDeviation="1.5"/></filter><filter id="f4_2" color-interpolation-filters="sRGB" filterUnits="userSpaceOnUse" x="664.5" y="734.9" width="394.3" height="308.7"><feGaussianBlur stdDeviation="2"/></filter><filter id="f4_2p5" color-interpolation-filters="sRGB" filterUnits="userSpaceOnUse" x="664.5" y="734.9" width="394.3" height="308.7"><feGaussianBlur stdDeviation="2.5"/></filter><filter id="f4_3" color-interpolation-filters="sRGB" filterUnits="userSpaceOnUse" x="664.5" y="734.9" width="394.3" height="308.7"><feGaussianBlur stdDeviation="3"/></filter><filter id="f4_4" color-interpolation-filters="sRGB" filterUnits="userSpaceOnUse" x="664.5" y="734.9" width="394.3" height="308.7"><feGaussianBlur stdDeviation="4"/></filter><filter id="f4_5" color-interpolation-filters="sRGB" filterUnits="userSpaceOnUse" x="664.5" y="734.9" width="394.3" height="308.7"><feGaussianBlur stdDeviation="5"/></filter><filter id="f4_6" color-interpolation-filters="sRGB" filterUnits="userSpaceOnUse" x="664.5" y="734.9" width="394.3" height="308.7"><feGaussianBlur stdDeviation="6"/></filter></defs>
<clipPath id="cp4"><rect x="704.5" y="774.9" width="314.3" height="228.7"/></clipPath>
<g clip-path="url(#cp4)">
<rect x="704.5" y="774.9" width="314.3" height="228.7" fill="#080808"/>
<path d="M683.1 963.7 C697 954.4 697.5 949.2 704.9 936.9 C712.3 924.6 712.2 911 720 902.1 C727.9 893.2 737.6 897.3 744.1 892.2 C750.6 887 749.4 881.8 752.6 876.3 C755.8 870.7 755.3 872.1 760 864.3 C764.7 856.6 768.1 846.1 776.1 837.5 C784.1 829 788.7 826.8 799.9 821.6 C811.1 816.4 820.7 814.7 831.9 811.5 C843.1 808.3 846.3 806.6 855.9 805.5 C865.6 804.5 870.4 806.7 880 806.1 C889.6 805.6 894.4 801.3 904 802.8 C913.6 804.2 916.9 809.5 928.1 813.5 C939.3 817.5 950.5 817.2 960.1 822.6 C969.6 828 970.2 832.2 976 840.5 C981.8 848.8 985.8 854 989.1 864.3 C992.3 874.7 990.1 884.6 992 892.2 C994 899.7 993.2 894.2 999 902.1 C1004.8 910 1013.3 921.2 1020.9 931.9 C1028.4 942.6 1026.4 945.4 1036.8 955.7 C1047.1 966.1 1065.4 962.1 1072.5 983.6 C1079.7 1005 1159.9 1047.1 1072.5 1063 C985.1 1078.9 722.8 1078.9 635.4 1063 C548 1047.1 625.9 1003.4 635.4 983.6 C644.9 963.7 669.2 973 683.1 963.7Z" fill="#343434" filter="url(#f4_3)"/>
<path d="M724.8 927.9 C730.1 891.5 732.8 903.8 750.6 874.3 C768.5 844.8 755.9 857.9 778.5 839.5 C801 821.1 789.7 829.2 818.2 819 C846.7 808.9 835.4 812.8 863.9 809.1 C892.4 805.4 874.5 802.8 903.6 807.9 C932.8 813.1 926.8 809.1 951.3 824.6 C975.8 840.1 961.9 826.6 977.1 854.4 C992.4 882.2 985.1 871.6 997 908.1 C1008.9 944.5 1014.2 935.2 1012.9 963.7 C1011.6 992.2 1003.3 1009.4 993 993.5 C982.8 977.6 993 962 982.1 916 C971.2 870 986.4 886.4 960.3 855.4 C934.1 824.4 935.8 834.5 903.6 823 C871.5 811.6 893.7 818.2 863.9 821 C834.1 823.9 842.7 818.8 814.2 831.6 C785.7 844.3 796 835.2 778.5 859.4 C760.9 883.6 769.2 872.6 761.6 904.1 C753.9 935.5 764.5 927.3 755.6 953.8 C746.7 980.3 745 992.2 734.7 983.6 C724.5 975 719.5 964.4 724.8 927.9Z" fill="#545454" filter="url(#f4_4)"/>
<path d="M759.6 904.1 C758.9 880.2 754.9 892 764.5 872.3 C774.1 852.6 767.9 860 788.4 844.9 C808.9 829.8 801 834.9 826.1 827 C851.3 819 838.1 823.4 863.9 821 C889.7 818.7 875.8 815.7 903.6 820 C931.4 824.3 925.5 819.2 947.3 833.9 C969.2 848.7 959.6 841 969.2 864.3 C978.8 887.7 974.8 880.9 976.2 904.1 C977.5 927.3 978.8 916.3 973.2 933.9 C967.5 951.4 972.5 946.5 959.3 956.7 C946 967 955.3 962.7 933.4 964.7 C911.6 966.7 916.9 962 893.7 962.7 C870.5 963.4 887.1 966.7 863.9 966.7 C840.7 966.7 850.6 962.7 824.2 962.7 C797.7 962.7 803.6 973 784.4 966.7 C765.2 960.4 774.8 964.7 766.5 943.8 C758.3 923 760.2 927.9 759.6 904.1Z" fill="#9a9a9a" filter="url(#f4_3)"/>
<path d="M770.5 892.2 C771.2 879.6 765.9 877.6 784.4 858.4 C803 839.2 799.6 845.1 826.1 834.5 C852.6 823.9 838.1 829.6 863.9 826.6 C889.7 823.6 877.1 821 903.6 825.6 C930.1 830.2 924.2 826.3 943.4 840.5 C962.6 854.7 952.6 848.5 961.3 868.3 C969.9 888.2 971.8 897.5 969.2 900.1 C966.6 902.8 965.2 892.2 953.3 876.3 C941.4 860.4 950 865 933.4 852.4 C916.9 839.8 926.8 843.2 903.6 838.5 C880.4 833.9 889.7 835.2 863.9 838.5 C838.1 841.8 848 838.5 826.1 848.5 C804.3 858.4 812.9 852.4 798.3 868.3 C783.8 884.2 791.7 888.2 782.4 896.1 C773.2 904.1 769.8 904.7 770.5 892.2Z" fill="#a8a8a8" filter="url(#f4_5)" opacity="0.8"/>
<ellipse cx="846" cy="908.1" rx="51.7" ry="47.7" fill="#8a8a8a" filter="url(#f4_6)" opacity="0.8"/>
<path d="M808.3 860.4 C803.6 864.3 802.3 861 794.3 872.3 C786.4 883.6 789 879.6 784.4 894.2 C779.8 908.7 781.8 908.7 780.4 916" fill="none" stroke="#cfcfcf" stroke-width="4" stroke-linecap="round" filter="url(#f4_2p5)"/>
<path d="M780.4 916 C781.1 920.6 778.5 922.6 782.4 929.9 C786.4 937.2 789 935.2 792.4 937.9" fill="none" stroke="#c0c0c0" stroke-width="10" stroke-linecap="round" filter="url(#f4_3)"/>
<path d="M852 868.3 C854 863.4 854.4 863.4 858.9 863.4 C863.4 863.4 863.5 864 865.5 868.3 C867.5 872.6 866.7 870.3 864.9 876.3 C863 882.2 862.8 882.6 859.9 886.2 C857.1 889.8 858.7 889.8 856.3 887.2 C854 884.5 854.4 884.5 853 878.3 C851.5 872 850 873.3 852 868.3Z" fill="#d4d4d4" filter="url(#f4_2)"/>
<path d="M863.9 822.6 C862.9 828.6 862.6 828.6 860.9 840.5 C859.3 852.4 859.6 852.4 858.9 858.4" fill="none" stroke="#4a4a4a" stroke-width="2.5" stroke-linecap="round" filter="url(#f4_1p5)"/>
<path d="M905.6 824.6 C911.6 826.9 911.6 826.6 923.5 831.6 C935.4 836.5 930.8 833.9 941.4 839.5 C952 845.1 950.7 845.5 955.3 848.5" fill="none" stroke="#eee" stroke-width="4" stroke-linecap="round" filter="url(#f4_1p5)"/>
<ellipse cx="835.1" cy="954.8" rx="5" ry="2.8" fill="#ccc" filter="url(#f4_2)"/>
<ellipse cx="890.7" cy="956.7" rx="4" ry="2.4" fill="#ccc" filter="url(#f4_2)"/>
<path d="M760.6 963.7 C758.7 953.8 756.7 953.8 755 933.9 C753.4 914 753.4 925.9 755.6 904.1 C757.8 882.2 752 889.4 761.6 868.3 C771.2 847.3 763.5 856.3 784.4 840.9 C805.3 825.5 797.7 830.3 824.2 822 C850.6 813.7 837.4 818.4 863.9 816.1 C890.4 813.7 875.2 810.8 903.6 815.1 C932.1 819.4 926.1 813.7 949.3 829 C972.5 844.2 962.6 835.7 973.2 860.8 C983.8 885.8 978.5 879.7 981.1 904.1 C983.8 928.5 983.1 917.3 981.1 933.9 C979.1 950.4 977.1 947.1 975.2 953.8" fill="none" stroke="#222" stroke-width="5" stroke-linecap="round" filter="url(#f4_2)"/>
<path d="M760.6 973.6 C787.1 955.7 789.7 969.3 824.2 969.7 C858.6 970 827.5 974.3 863.9 974.6 C900.3 975 895.7 975.6 933.4 970.6 C971.2 965.7 957.3 942.2 977.1 959.7 C997 977.3 1070.5 1002.1 993 1023.3 C915.6 1044.5 822.2 1039.9 744.7 1023.3 C667.2 1006.7 734.1 991.5 760.6 973.6Z" fill="#262626" filter="url(#f4_5)"/>
<path d="M683.1 963.7 C692.4 937.2 693.7 963.7 710.9 943.8 C728.1 924 720.8 921.3 734.7 904.1 C748.6 886.9 745.3 875.6 752.6 892.2 C759.9 908.7 753.3 910 756.6 953.8 C759.9 997.5 787.1 1000.1 762.6 1023.3 C738.1 1046.5 709.6 1043.2 683.1 1023.3 C656.6 1003.4 673.8 990.2 683.1 963.7Z" fill="#5e5e5e" filter="url(#f4_5)"/>
<path d="M981.1 868.3 C985.8 863 986.4 878.9 997 904.1 C1007.6 929.3 999.7 924 1012.9 943.8 C1026.2 963.7 1028.8 937.2 1036.8 963.7 C1044.7 990.2 1057.9 1003.4 1036.8 1023.3 C1015.6 1043.2 991.7 1043.2 973.2 1023.3 C954.6 1003.4 977.8 998.1 981.1 963.7 C984.4 929.3 983.1 951.8 983.1 920 C983.1 888.2 976.5 873.6 981.1 868.3Z" fill="#686868" filter="url(#f4_5)"/>
<path d="M893.7 947.8 C894.4 953.1 896.3 951.8 895.7 963.7 C895 975.6 895 967 891.7 983.6 C888.4 1000.1 887.7 1003.4 885.7 1013.4" fill="none" stroke="#7a7a7a" stroke-width="5" stroke-linecap="round" filter="url(#f4_2)"/>
<linearGradient id="g4" gradientUnits="userSpaceOnUse" x1="0" y1="774.9" x2="0" y2="1003.6"><stop offset="0" stop-color="#000" stop-opacity="0"/><stop offset="0.2" stop-color="#000" stop-opacity="0"/><stop offset="0.5" stop-color="#000" stop-opacity="0.26"/><stop offset="0.85" stop-color="#000" stop-opacity="0.49"/><stop offset="1" stop-color="#000" stop-opacity="0.56"/></linearGradient>
<rect x="702.5" y="772.9" width="318.3" height="232.7" fill="url(#g4)"/>
<path d="M908.6 865.9 C912 864.6 911.2 865.6 913.6 867.3 C915.9 869 914.1 870.4 917.5 872.3 C921 874.1 923.8 871.1 926.5 874.3 C929.1 877.5 928 877.3 927.5 884.2 C926.9 891.1 924.8 891.6 924.5 900.1 C924.2 908.6 927.8 909.9 926.5 916 C925.2 922.1 924 918.7 919.5 923 C915 927.2 913.6 926.6 909.6 931.9 C905.6 937.2 907 939.2 904.6 942.8 C902.2 946.4 903.6 945.7 900.6 945.4 C897.7 945.2 897.7 945.4 893.7 941.8 C889.7 938.2 888.9 937.2 885.7 931.9 C882.6 926.6 883.6 927.8 881.8 922 C879.9 916.1 878.5 916.4 878.8 910 C879.1 903.7 878.8 902.9 882.8 898.1 C886.7 893.4 889.5 896.4 893.7 892.2 C897.9 887.9 896.8 887.5 898.7 882.2 C900.5 876.9 898 876.6 900.6 872.3 C903.3 868 905.2 867.3 908.6 865.9Z" fill="none" stroke="#ffee00" stroke-width="2.6" stroke-linecap="butt" stroke-dasharray="5.5 3"/>
</g>
<rect x="945" y="976.2" width="42.1" height="5" fill="#ffee00"/>
<text x="663.5" y="151" font-size="26" font-weight="bold" text-anchor="middle" fill="#000" transform="rotate(-90 663.5 151)">IgG</text>
<text x="694.5" y="151" font-size="26" font-weight="bold" text-anchor="middle" fill="#000" transform="rotate(-90 694.5 151)">Vector</text>
<text x="663.5" y="413.5" font-size="26" font-weight="bold" text-anchor="middle" fill="#000" transform="rotate(-90 663.5 413.5)">Anti-PD1/CTLA-4</text>
<text x="694.5" y="413.5" font-size="26" font-weight="bold" text-anchor="middle" fill="#000" transform="rotate(-90 694.5 413.5)">Vector</text>
<text x="663.5" y="651" font-size="26" font-weight="bold" text-anchor="middle" fill="#000" transform="rotate(-90 663.5 651)">IgG</text>
<text x="694.5" y="651" font-size="26" font-weight="bold" text-anchor="middle" fill="#000" transform="rotate(-90 694.5 651)">VEGF-C</text>
<text x="663.5" y="888.5" font-size="26" font-weight="bold" text-anchor="middle" fill="#000" transform="rotate(-90 663.5 888.5)">Anti-PD1/CTLA-4</text>
<text x="694.5" y="888.5" font-size="26" font-weight="bold" text-anchor="middle" fill="#000" transform="rotate(-90 694.5 888.5)">VEGF-C</text>
<circle cx="698.5" cy="1086.7" r="9.6" fill="none" stroke="#000" stroke-width="3.5"/>
<rect x="688.9" y="1119.8" width="18.9" height="18.9" fill="none" stroke="#f00" stroke-width="3.5"/>
<path d="M698.6 1157.2 L707.4 1174.2 L689.8 1174.2 Z" fill="none" stroke="#2a1fd0" stroke-width="3.5" stroke-linejoin="round"/>
<path d="M699.4 1191.3 L709.6 1201.3 L699.4 1211.3 L689.2 1201.3 Z" fill="none" stroke="#0aa84f" stroke-width="3.5" stroke-linejoin="miter"/>
<text x="739.3" y="1092.8" font-size="26" font-weight="bold" text-anchor="start" fill="#000">IgG Vector</text>
<text x="737" y="1138.2" font-size="26" font-weight="bold" text-anchor="start" fill="#000">Anti-PD-1/CTLA-4 Vector</text>
<text x="739.3" y="1175" font-size="26" font-weight="bold" text-anchor="start" fill="#000">IgG VEGF-C</text>
<text x="736.6" y="1212.2" font-size="26" font-weight="bold" text-anchor="start" fill="#000">Anti-PD-1/CTLA-4 VEGF-C</text>
<text x="1133.9" y="28.9" font-size="39.5" font-weight="bold" text-anchor="start" fill="#000">d</text>
<text x="1229.5" y="34.3" font-size="26" font-weight="bold" text-anchor="start" fill="#000">Tumor</text>
<line x1="1226.4" y1="61.9" x2="1226.4" y2="378.7" stroke="#000" stroke-width="3.1" stroke-linecap="butt"/>
<line x1="1216.9" y1="377.2" x2="1541" y2="377.2" stroke="#000" stroke-width="3.1" stroke-linecap="butt"/>
<line x1="1216.9" y1="377.2" x2="1226.4" y2="377.2" stroke="#000" stroke-width="3" stroke-linecap="butt"/>
<line x1="1216.9" y1="298.8" x2="1226.4" y2="298.8" stroke="#000" stroke-width="3" stroke-linecap="butt"/>
<line x1="1216.9" y1="220.3" x2="1226.4" y2="220.3" stroke="#000" stroke-width="3" stroke-linecap="butt"/>
<line x1="1216.9" y1="141.8" x2="1226.4" y2="141.8" stroke="#000" stroke-width="3" stroke-linecap="butt"/>
<line x1="1216.9" y1="63.4" x2="1226.4" y2="63.4" stroke="#000" stroke-width="3" stroke-linecap="butt"/>
<line x1="1265.3" y1="377.2" x2="1265.3" y2="386.7" stroke="#000" stroke-width="3" stroke-linecap="butt"/>
<line x1="1343.9" y1="377.2" x2="1343.9" y2="386.7" stroke="#000" stroke-width="3" stroke-linecap="butt"/>
<line x1="1422.3" y1="377.2" x2="1422.3" y2="386.7" stroke="#000" stroke-width="3" stroke-linecap="butt"/>
<line x1="1500.9" y1="377.2" x2="1500.9" y2="386.7" stroke="#000" stroke-width="3" stroke-linecap="butt"/>
<text transform="translate(1214.4 385.6) scale(0.93 1)" font-size="25" font-weight="bold" text-anchor="end">0</text>
<text transform="translate(1214.4 307.2) scale(0.93 1)" font-size="25" font-weight="bold" text-anchor="end">10</text>
<text transform="translate(1214.4 228.7) scale(0.93 1)" font-size="25" font-weight="bold" text-anchor="end">20</text>
<text transform="translate(1214.4 150.2) scale(0.93 1)" font-size="25" font-weight="bold" text-anchor="end">30</text>
<text transform="translate(1214.4 71.8) scale(0.93 1)" font-size="25" font-weight="bold" text-anchor="end">40</text>
<text x="1181" y="234" font-size="26" font-weight="bold" text-anchor="middle" fill="#000" transform="rotate(-90 1181 234)">% CD8<tspan font-size="17" dy="-9">+</tspan><tspan dy="9">Ki67</tspan><tspan font-size="17" dy="-9">+</tspan><tspan dy="9"> T cells</tspan></text>
<circle cx="1285.4" cy="298.2" r="5.9" fill="none" stroke="#000" stroke-width="2.8"/>
<circle cx="1266.1" cy="306.2" r="5.9" fill="none" stroke="#000" stroke-width="2.8"/>
<circle cx="1247.8" cy="316.1" r="5.9" fill="none" stroke="#000" stroke-width="2.8"/>
<circle cx="1285.4" cy="314.4" r="5.9" fill="none" stroke="#000" stroke-width="2.8"/>
<circle cx="1247.8" cy="342.4" r="5.9" fill="none" stroke="#000" stroke-width="2.8"/>
<circle cx="1266.1" cy="346.7" r="5.9" fill="none" stroke="#000" stroke-width="2.8"/>
<circle cx="1285.4" cy="342.4" r="5.9" fill="none" stroke="#000" stroke-width="2.8"/>
<circle cx="1259.3" cy="329.7" r="5.9" fill="none" stroke="#000" stroke-width="2.8"/>
<circle cx="1272.9" cy="329.7" r="5.9" fill="none" stroke="#000" stroke-width="2.8"/>
<circle cx="1266.1" cy="333.9" r="5.9" fill="none" stroke="#000" stroke-width="2.8"/>
<circle cx="1258.5" cy="337.3" r="5.9" fill="none" stroke="#000" stroke-width="2.8"/>
<circle cx="1274.6" cy="337.3" r="5.9" fill="none" stroke="#000" stroke-width="2.8"/>
<rect x="1337.5" y="186.4" width="12.7" height="12.7" fill="none" stroke="#f00" stroke-width="2.8"/>
<rect x="1356.7" y="209.7" width="12.7" height="12.7" fill="none" stroke="#f00" stroke-width="2.8"/>
<rect x="1318.8" y="216.2" width="12.7" height="12.7" fill="none" stroke="#f00" stroke-width="2.8"/>
<rect x="1337.5" y="220.4" width="12.7" height="12.7" fill="none" stroke="#f00" stroke-width="2.8"/>
<rect x="1318.8" y="227.7" width="12.7" height="12.7" fill="none" stroke="#f00" stroke-width="2.8"/>
<rect x="1356.7" y="228.4" width="12.7" height="12.7" fill="none" stroke="#f00" stroke-width="2.8"/>
<rect x="1337.5" y="240.8" width="12.7" height="12.7" fill="none" stroke="#f00" stroke-width="2.8"/>
<rect x="1318.8" y="280.5" width="12.7" height="12.7" fill="none" stroke="#f00" stroke-width="2.8"/>
<rect x="1318.8" y="290.2" width="12.7" height="12.7" fill="none" stroke="#f00" stroke-width="2.8"/>
<rect x="1337.5" y="288" width="12.7" height="12.7" fill="none" stroke="#f00" stroke-width="2.8"/>
<rect x="1356.7" y="292.7" width="12.7" height="12.7" fill="none" stroke="#f00" stroke-width="2.8"/>
<rect x="1337.5" y="308.9" width="12.7" height="12.7" fill="none" stroke="#f00" stroke-width="2.8"/>
<path d="M1423.1 264.9 L1429.2 277.1 L1417 277.1 Z" fill="none" stroke="#00f" stroke-width="2.6" stroke-linejoin="miter"/>
<path d="M1404.4 276 L1410.5 288.2 L1398.3 288.2 Z" fill="none" stroke="#00f" stroke-width="2.6" stroke-linejoin="miter"/>
<path d="M1413.8 290.8 L1419.9 303 L1407.7 303 Z" fill="none" stroke="#00f" stroke-width="2.6" stroke-linejoin="miter"/>
<path d="M1423.1 290.8 L1429.2 303 L1417 303 Z" fill="none" stroke="#00f" stroke-width="2.6" stroke-linejoin="miter"/>
<path d="M1442.2 286.5 L1448.3 298.7 L1436.1 298.7 Z" fill="none" stroke="#00f" stroke-width="2.6" stroke-linejoin="miter"/>
<path d="M1442.2 295.9 L1448.3 308.1 L1436.1 308.1 Z" fill="none" stroke="#00f" stroke-width="2.6" stroke-linejoin="miter"/>
<path d="M1404.4 304.4 L1410.5 316.6 L1398.3 316.6 Z" fill="none" stroke="#00f" stroke-width="2.6" stroke-linejoin="miter"/>
<path d="M1423.1 310.3 L1429.2 322.5 L1417 322.5 Z" fill="none" stroke="#00f" stroke-width="2.6" stroke-linejoin="miter"/>
<path d="M1404.4 321.4 L1410.5 333.6 L1398.3 333.6 Z" fill="none" stroke="#00f" stroke-width="2.6" stroke-linejoin="miter"/>
<path d="M1432.5 319.7 L1438.6 331.9 L1426.4 331.9 Z" fill="none" stroke="#00f" stroke-width="2.6" stroke-linejoin="miter"/>
<path d="M1423.1 330.7 L1429.2 342.9 L1417 342.9 Z" fill="none" stroke="#00f" stroke-width="2.6" stroke-linejoin="miter"/>
<path d="M1442.2 329.9 L1448.3 342.1 L1436.1 342.1 Z" fill="none" stroke="#00f" stroke-width="2.6" stroke-linejoin="miter"/>
<path d="M1482.7 229.6 L1490.5 237.5 L1482.7 245.4 L1474.8 237.5 Z" fill="none" stroke="#0b0" stroke-width="2.9" stroke-linejoin="miter"/>
<path d="M1501.4 229.6 L1509.2 237.5 L1501.4 245.4 L1493.5 237.5 Z" fill="none" stroke="#0b0" stroke-width="2.9" stroke-linejoin="miter"/>
<path d="M1520.4 222.8 L1528.3 230.7 L1520.4 238.6 L1512.6 230.7 Z" fill="none" stroke="#0b0" stroke-width="2.9" stroke-linejoin="miter"/>
<path d="M1501.4 250 L1509.2 257.9 L1501.4 265.8 L1493.5 257.9 Z" fill="none" stroke="#0b0" stroke-width="2.9" stroke-linejoin="miter"/>
<path d="M1520.4 133.7 L1528.3 141.6 L1520.4 149.4 L1512.6 141.6 Z" fill="none" stroke="#0b0" stroke-width="2.9" stroke-linejoin="miter"/>
<path d="M1501.4 147.8 L1509.2 155.7 L1501.4 163.5 L1493.5 155.7 Z" fill="none" stroke="#0b0" stroke-width="2.9" stroke-linejoin="miter"/>
<path d="M1482.7 166.5 L1490.5 174.4 L1482.7 182.3 L1474.8 174.4 Z" fill="none" stroke="#0b0" stroke-width="2.9" stroke-linejoin="miter"/>
<path d="M1501.4 166.5 L1509.2 174.4 L1501.4 182.3 L1493.5 174.4 Z" fill="none" stroke="#0b0" stroke-width="2.9" stroke-linejoin="miter"/>
<path d="M1511.1 173.3 L1518.9 181.2 L1511.1 189.1 L1503.2 181.2 Z" fill="none" stroke="#0b0" stroke-width="2.9" stroke-linejoin="miter"/>
<path d="M1482.7 177.6 L1490.5 185.4 L1482.7 193.3 L1474.8 185.4 Z" fill="none" stroke="#0b0" stroke-width="2.9" stroke-linejoin="miter"/>
<path d="M1520.4 188.6 L1528.3 196.5 L1520.4 204.4 L1512.6 196.5 Z" fill="none" stroke="#0b0" stroke-width="2.9" stroke-linejoin="miter"/>
<path d="M1501.4 193.7 L1509.2 201.6 L1501.4 209.5 L1493.5 201.6 Z" fill="none" stroke="#0b0" stroke-width="2.9" stroke-linejoin="miter"/>
<line x1="1238.9" y1="327.1" x2="1292.5" y2="327.1" stroke="#000" stroke-width="3" stroke-linecap="butt"/>
<line x1="1253.5" y1="323.7" x2="1278.7" y2="323.7" stroke="#000" stroke-width="4" stroke-linecap="round"/>
<line x1="1253.5" y1="330.9" x2="1278.7" y2="330.9" stroke="#000" stroke-width="4" stroke-linecap="round"/>
<line x1="1266.1" y1="323.7" x2="1266.1" y2="330.9" stroke="#000" stroke-width="3.4" stroke-linecap="butt"/>
<line x1="1317.5" y1="254.8" x2="1369.9" y2="254.8" stroke="#000" stroke-width="3" stroke-linecap="butt"/>
<line x1="1332.1" y1="244.6" x2="1357.8" y2="244.6" stroke="#000" stroke-width="4" stroke-linecap="round"/>
<line x1="1332.1" y1="268.8" x2="1357.8" y2="268.8" stroke="#000" stroke-width="4" stroke-linecap="round"/>
<line x1="1345" y1="244.6" x2="1345" y2="268.8" stroke="#000" stroke-width="3.4" stroke-linecap="butt"/>
<line x1="1395.4" y1="308.8" x2="1449" y2="308.8" stroke="#000" stroke-width="3" stroke-linecap="butt"/>
<line x1="1410" y1="302.8" x2="1436.1" y2="302.8" stroke="#000" stroke-width="4" stroke-linecap="round"/>
<line x1="1410" y1="314.4" x2="1436.1" y2="314.4" stroke="#000" stroke-width="4" stroke-linecap="round"/>
<line x1="1423" y1="302.8" x2="1423" y2="314.4" stroke="#000" stroke-width="3.4" stroke-linecap="butt"/>
<line x1="1474.2" y1="197" x2="1527.2" y2="197" stroke="#000" stroke-width="3" stroke-linecap="butt"/>
<line x1="1488.6" y1="187.7" x2="1514.8" y2="187.7" stroke="#000" stroke-width="4" stroke-linecap="round"/>
<line x1="1488.6" y1="208.9" x2="1514.8" y2="208.9" stroke="#000" stroke-width="4" stroke-linecap="round"/>
<line x1="1501.7" y1="187.7" x2="1501.7" y2="208.9" stroke="#000" stroke-width="3.4" stroke-linecap="butt"/>
<line x1="1358" y1="76.2" x2="1505.1" y2="76.2" stroke="#000" stroke-width="2.7" stroke-linecap="butt"/>
<text x="1429.4" y="70" font-size="28" font-weight="bold" text-anchor="middle" fill="#000">*</text>
<line x1="1424" y1="116.4" x2="1504.8" y2="116.4" stroke="#000" stroke-width="2.7" stroke-linecap="butt"/>
<text x="1466.2" y="116.2" font-size="28" font-weight="bold" text-anchor="middle" fill="#000">***</text>
<line x1="1261" y1="167.7" x2="1341.8" y2="167.7" stroke="#000" stroke-width="2.7" stroke-linecap="butt"/>
<text x="1307" y="164.7" font-size="28" font-weight="bold" text-anchor="middle" fill="#000">***</text>
<text x="1669.5" y="34.3" font-size="26" font-weight="bold" text-anchor="start" fill="#000">dCLN</text>
<line x1="1665" y1="64" x2="1665" y2="379.6" stroke="#000" stroke-width="3.1" stroke-linecap="butt"/>
<line x1="1655.6" y1="378.1" x2="1976.8" y2="378.1" stroke="#000" stroke-width="3.1" stroke-linecap="butt"/>
<line x1="1655.5" y1="378.1" x2="1665" y2="378.1" stroke="#000" stroke-width="3" stroke-linecap="butt"/>
<line x1="1655.5" y1="300" x2="1665" y2="300" stroke="#000" stroke-width="3" stroke-linecap="butt"/>
<line x1="1655.5" y1="221.8" x2="1665" y2="221.8" stroke="#000" stroke-width="3" stroke-linecap="butt"/>
<line x1="1655.5" y1="143.7" x2="1665" y2="143.7" stroke="#000" stroke-width="3" stroke-linecap="butt"/>
<line x1="1655.5" y1="65.5" x2="1665" y2="65.5" stroke="#000" stroke-width="3" stroke-linecap="butt"/>
<line x1="1701.9" y1="378.1" x2="1701.9" y2="387.6" stroke="#000" stroke-width="3" stroke-linecap="butt"/>
<line x1="1780.1" y1="378.1" x2="1780.1" y2="387.6" stroke="#000" stroke-width="3" stroke-linecap="butt"/>
<line x1="1859.2" y1="378.1" x2="1859.2" y2="387.6" stroke="#000" stroke-width="3" stroke-linecap="butt"/>
<line x1="1937.5" y1="378.1" x2="1937.5" y2="387.6" stroke="#000" stroke-width="3" stroke-linecap="butt"/>
<text transform="translate(1653 386.5) scale(0.93 1)" font-size="25" font-weight="bold" text-anchor="end">0</text>
<text transform="translate(1653 308.4) scale(0.93 1)" font-size="25" font-weight="bold" text-anchor="end">25</text>
<text transform="translate(1653 230.2) scale(0.93 1)" font-size="25" font-weight="bold" text-anchor="end">50</text>
<text transform="translate(1653 152.1) scale(0.93 1)" font-size="25" font-weight="bold" text-anchor="end">75</text>
<text transform="translate(1653 73.9) scale(0.93 1)" font-size="25" font-weight="bold" text-anchor="end">100</text>
<text x="1612" y="232.8" font-size="26" font-weight="bold" text-anchor="middle" fill="#000" transform="rotate(-90 1612 232.8)">% CD8<tspan font-size="17" dy="-9">+</tspan><tspan dy="9">Ki67</tspan><tspan font-size="17" dy="-9">+</tspan><tspan dy="9"> T cells</tspan></text>
<circle cx="1684" cy="368.3" r="5.9" fill="none" stroke="#000" stroke-width="2.8"/>
<circle cx="1693.4" cy="368.3" r="5.9" fill="none" stroke="#000" stroke-width="2.8"/>
<circle cx="1702.7" cy="350.1" r="5.9" fill="none" stroke="#000" stroke-width="2.8"/>
<circle cx="1702.7" cy="358.6" r="5.9" fill="none" stroke="#000" stroke-width="2.8"/>
<circle cx="1702.7" cy="368.3" r="5.9" fill="none" stroke="#000" stroke-width="2.8"/>
<circle cx="1712.1" cy="368.3" r="5.9" fill="none" stroke="#000" stroke-width="2.8"/>
<circle cx="1722.3" cy="368.3" r="5.9" fill="none" stroke="#000" stroke-width="2.8"/>
<circle cx="1697.6" cy="363.7" r="5.9" fill="none" stroke="#000" stroke-width="2.8"/>
<circle cx="1707.8" cy="363.7" r="5.9" fill="none" stroke="#000" stroke-width="2.8"/>
<circle cx="1702.7" cy="371.4" r="5.9" fill="none" stroke="#000" stroke-width="2.8"/>
<circle cx="1693.4" cy="362.9" r="5.9" fill="none" stroke="#000" stroke-width="2.8"/>
<circle cx="1712.1" cy="362.9" r="5.9" fill="none" stroke="#000" stroke-width="2.8"/>
<rect x="1774.1" y="174.8" width="12.7" height="12.7" fill="none" stroke="#f00" stroke-width="2.8"/>
<rect x="1764.8" y="248.2" width="12.7" height="12.7" fill="none" stroke="#f00" stroke-width="2.8"/>
<rect x="1755.1" y="259.5" width="12.7" height="12.7" fill="none" stroke="#f00" stroke-width="2.8"/>
<rect x="1774.1" y="260.7" width="12.7" height="12.7" fill="none" stroke="#f00" stroke-width="2.8"/>
<rect x="1793.3" y="254.4" width="12.7" height="12.7" fill="none" stroke="#f00" stroke-width="2.8"/>
<rect x="1774.1" y="285.9" width="12.7" height="12.7" fill="none" stroke="#f00" stroke-width="2.8"/>
<rect x="1755.1" y="306.3" width="12.7" height="12.7" fill="none" stroke="#f00" stroke-width="2.8"/>
<rect x="1774.1" y="309.7" width="12.7" height="12.7" fill="none" stroke="#f00" stroke-width="2.8"/>
<rect x="1793.3" y="300.4" width="12.7" height="12.7" fill="none" stroke="#f00" stroke-width="2.8"/>
<rect x="1755.1" y="323.7" width="12.7" height="12.7" fill="none" stroke="#f00" stroke-width="2.8"/>
<rect x="1774.1" y="337.8" width="12.7" height="12.7" fill="none" stroke="#f00" stroke-width="2.8"/>
<rect x="1793.3" y="337.8" width="12.7" height="12.7" fill="none" stroke="#f00" stroke-width="2.8"/>
<path d="M1860.1 348.6 L1866.2 360.8 L1854 360.8 Z" fill="none" stroke="#00f" stroke-width="2.6" stroke-linejoin="miter"/>
<path d="M1841.4 363.9 L1847.5 376.1 L1835.3 376.1 Z" fill="none" stroke="#00f" stroke-width="2.6" stroke-linejoin="miter"/>
<path d="M1850.7 360.5 L1856.8 372.7 L1844.6 372.7 Z" fill="none" stroke="#00f" stroke-width="2.6" stroke-linejoin="miter"/>
<path d="M1860.1 365.6 L1866.2 377.8 L1854 377.8 Z" fill="none" stroke="#00f" stroke-width="2.6" stroke-linejoin="miter"/>
<path d="M1869.4 360.5 L1875.5 372.7 L1863.3 372.7 Z" fill="none" stroke="#00f" stroke-width="2.6" stroke-linejoin="miter"/>
<path d="M1879.6 363.9 L1885.7 376.1 L1873.5 376.1 Z" fill="none" stroke="#00f" stroke-width="2.6" stroke-linejoin="miter"/>
<path d="M1860.1 353.7 L1866.2 365.9 L1854 365.9 Z" fill="none" stroke="#00f" stroke-width="2.6" stroke-linejoin="miter"/>
<path d="M1855.8 357.1 L1861.9 369.3 L1849.7 369.3 Z" fill="none" stroke="#00f" stroke-width="2.6" stroke-linejoin="miter"/>
<path d="M1864.3 357.1 L1870.4 369.3 L1858.2 369.3 Z" fill="none" stroke="#00f" stroke-width="2.6" stroke-linejoin="miter"/>
<path d="M1847.3 365.6 L1853.4 377.8 L1841.2 377.8 Z" fill="none" stroke="#00f" stroke-width="2.6" stroke-linejoin="miter"/>
<path d="M1872.8 365.6 L1878.9 377.8 L1866.7 377.8 Z" fill="none" stroke="#00f" stroke-width="2.6" stroke-linejoin="miter"/>
<path d="M1860.1 359.7 L1866.2 371.9 L1854 371.9 Z" fill="none" stroke="#00f" stroke-width="2.6" stroke-linejoin="miter"/>
<path d="M1919.3 131.6 L1927.1 139.5 L1919.3 147.4 L1911.4 139.5 Z" fill="none" stroke="#0b0" stroke-width="2.9" stroke-linejoin="miter"/>
<path d="M1938 142.7 L1945.8 150.6 L1938 158.4 L1930.1 150.6 Z" fill="none" stroke="#0b0" stroke-width="2.9" stroke-linejoin="miter"/>
<path d="M1938 169.1 L1945.8 176.9 L1938 184.8 L1930.1 176.9 Z" fill="none" stroke="#0b0" stroke-width="2.9" stroke-linejoin="miter"/>
<path d="M1919.3 209.9 L1927.1 217.8 L1919.3 225.6 L1911.4 217.8 Z" fill="none" stroke="#0b0" stroke-width="2.9" stroke-linejoin="miter"/>
<path d="M1938 209.9 L1945.8 217.8 L1938 225.6 L1930.1 217.8 Z" fill="none" stroke="#0b0" stroke-width="2.9" stroke-linejoin="miter"/>
<path d="M1957 209.9 L1964.9 217.8 L1957 225.6 L1949.2 217.8 Z" fill="none" stroke="#0b0" stroke-width="2.9" stroke-linejoin="miter"/>
<path d="M1938 232 L1945.8 239.9 L1938 247.7 L1930.1 239.9 Z" fill="none" stroke="#0b0" stroke-width="2.9" stroke-linejoin="miter"/>
<path d="M1919.3 252.1 L1927.1 259.9 L1919.3 267.8 L1911.4 259.9 Z" fill="none" stroke="#0b0" stroke-width="2.9" stroke-linejoin="miter"/>
<path d="M1938 258.9 L1945.8 266.7 L1938 274.6 L1930.1 266.7 Z" fill="none" stroke="#0b0" stroke-width="2.9" stroke-linejoin="miter"/>
<path d="M1957 252.1 L1964.9 259.9 L1957 267.8 L1949.2 259.9 Z" fill="none" stroke="#0b0" stroke-width="2.9" stroke-linejoin="miter"/>
<path d="M1957 295.5 L1964.9 303.3 L1957 311.2 L1949.2 303.3 Z" fill="none" stroke="#0b0" stroke-width="2.9" stroke-linejoin="miter"/>
<path d="M1938 309.1 L1945.8 316.9 L1938 324.8 L1930.1 316.9 Z" fill="none" stroke="#0b0" stroke-width="2.9" stroke-linejoin="miter"/>
<line x1="1677.2" y1="364.9" x2="1729.1" y2="364.9" stroke="#000" stroke-width="3" stroke-linecap="butt"/>
<line x1="1691.8" y1="362.9" x2="1715.3" y2="362.9" stroke="#000" stroke-width="4" stroke-linecap="round"/>
<line x1="1691.8" y1="367.1" x2="1715.3" y2="367.1" stroke="#000" stroke-width="4" stroke-linecap="round"/>
<line x1="1703.6" y1="362.9" x2="1703.6" y2="367.1" stroke="#000" stroke-width="3.4" stroke-linecap="butt"/>
<line x1="1755.8" y1="288.9" x2="1808.2" y2="288.9" stroke="#000" stroke-width="3" stroke-linecap="butt"/>
<line x1="1768.9" y1="277.8" x2="1794.4" y2="277.8" stroke="#000" stroke-width="4" stroke-linecap="round"/>
<line x1="1768.9" y1="304.2" x2="1794.4" y2="304.2" stroke="#000" stroke-width="4" stroke-linecap="round"/>
<line x1="1781.7" y1="277.8" x2="1781.7" y2="304.2" stroke="#000" stroke-width="3.4" stroke-linecap="butt"/>
<line x1="1834.6" y1="364.6" x2="1886.4" y2="364.6" stroke="#000" stroke-width="3" stroke-linecap="butt"/>
<line x1="1848.3" y1="362.9" x2="1872.7" y2="362.9" stroke="#000" stroke-width="4" stroke-linecap="round"/>
<line x1="1848.3" y1="366.6" x2="1872.7" y2="366.6" stroke="#000" stroke-width="4" stroke-linecap="round"/>
<line x1="1860.5" y1="362.9" x2="1860.5" y2="366.6" stroke="#000" stroke-width="3.4" stroke-linecap="butt"/>
<line x1="1911.1" y1="229.7" x2="1963.8" y2="229.7" stroke="#000" stroke-width="3" stroke-linecap="butt"/>
<line x1="1925.2" y1="214.5" x2="1950.9" y2="214.5" stroke="#000" stroke-width="4" stroke-linecap="round"/>
<line x1="1925.2" y1="245.5" x2="1950.9" y2="245.5" stroke="#000" stroke-width="4" stroke-linecap="round"/>
<line x1="1938.1" y1="214.5" x2="1938.1" y2="245.5" stroke="#000" stroke-width="3.4" stroke-linecap="butt"/>
<line x1="1787.8" y1="84.2" x2="1935.4" y2="84.2" stroke="#000" stroke-width="2.7" stroke-linecap="butt"/>
<text x="1856.3" y="74.6" font-size="28" font-weight="bold" text-anchor="middle" fill="#000">**</text>
<line x1="1854.6" y1="120.8" x2="1935.4" y2="120.8" stroke="#000" stroke-width="2.7" stroke-linecap="butt"/>
<text x="1894.1" y="120.5" font-size="28" font-weight="bold" text-anchor="middle" fill="#000">***</text>
<line x1="1703.6" y1="148.2" x2="1784" y2="148.2" stroke="#000" stroke-width="2.7" stroke-linecap="butt"/>
<text x="1743.2" y="146" font-size="28" font-weight="bold" text-anchor="middle" fill="#000">***</text>
<text x="1134.5" y="466.5" font-size="39.5" font-weight="bold" text-anchor="start" fill="#000">e</text>
<text x="1229" y="495" font-size="26" font-weight="bold" text-anchor="start" fill="#000">Tumor</text>
<line x1="1222.8" y1="512.9" x2="1222.8" y2="829.1" stroke="#000" stroke-width="3.1" stroke-linecap="butt"/>
<line x1="1213.4" y1="827.6" x2="1536.8" y2="827.6" stroke="#000" stroke-width="3.1" stroke-linecap="butt"/>
<line x1="1213.3" y1="827.6" x2="1222.8" y2="827.6" stroke="#000" stroke-width="3" stroke-linecap="butt"/>
<line x1="1213.3" y1="671" x2="1222.8" y2="671" stroke="#000" stroke-width="3" stroke-linecap="butt"/>
<line x1="1213.3" y1="514.4" x2="1222.8" y2="514.4" stroke="#000" stroke-width="3" stroke-linecap="butt"/>
<line x1="1261.9" y1="827.6" x2="1261.9" y2="837.1" stroke="#000" stroke-width="3" stroke-linecap="butt"/>
<line x1="1340.1" y1="827.6" x2="1340.1" y2="837.1" stroke="#000" stroke-width="3" stroke-linecap="butt"/>
<line x1="1418.9" y1="827.6" x2="1418.9" y2="837.1" stroke="#000" stroke-width="3" stroke-linecap="butt"/>
<line x1="1497.1" y1="827.6" x2="1497.1" y2="837.1" stroke="#000" stroke-width="3" stroke-linecap="butt"/>
<text transform="translate(1210.8 836) scale(0.93 1)" font-size="25" font-weight="bold" text-anchor="end">0</text>
<text transform="translate(1210.8 679.4) scale(0.93 1)" font-size="25" font-weight="bold" text-anchor="end">5</text>
<text transform="translate(1210.8 522.8) scale(0.93 1)" font-size="25" font-weight="bold" text-anchor="end">10</text>
<text x="1176.5" y="651" font-size="26" font-weight="bold" text-anchor="middle" fill="#000" transform="rotate(-90 1176.5 651)">% CD4<tspan font-size="17" dy="-9">+</tspan><tspan dy="9">Foxp3</tspan><tspan font-size="17" dy="-9">+</tspan><tspan dy="9"> T cells</tspan></text>
<circle cx="1243.5" cy="649.9" r="5.9" fill="none" stroke="#000" stroke-width="2.8"/>
<circle cx="1262.4" cy="663.5" r="5.9" fill="none" stroke="#000" stroke-width="2.8"/>
<circle cx="1243.5" cy="690.7" r="5.9" fill="none" stroke="#000" stroke-width="2.8"/>
<circle cx="1281.4" cy="693.6" r="5.9" fill="none" stroke="#000" stroke-width="2.8"/>
<circle cx="1262.4" cy="705.5" r="5.9" fill="none" stroke="#000" stroke-width="2.8"/>
<circle cx="1253.4" cy="725" r="5.9" fill="none" stroke="#000" stroke-width="2.8"/>
<circle cx="1271.2" cy="725" r="5.9" fill="none" stroke="#000" stroke-width="2.8"/>
<circle cx="1243.5" cy="733.2" r="5.9" fill="none" stroke="#000" stroke-width="2.8"/>
<circle cx="1262.4" cy="734.4" r="5.9" fill="none" stroke="#000" stroke-width="2.8"/>
<circle cx="1281.4" cy="729.3" r="5.9" fill="none" stroke="#000" stroke-width="2.8"/>
<circle cx="1281.4" cy="735.3" r="5.9" fill="none" stroke="#000" stroke-width="2.8"/>
<circle cx="1262.4" cy="754.8" r="5.9" fill="none" stroke="#000" stroke-width="2.8"/>
<rect x="1315.1" y="703.7" width="12.7" height="12.7" fill="none" stroke="#f00" stroke-width="2.8"/>
<rect x="1333.8" y="722.1" width="12.7" height="12.7" fill="none" stroke="#f00" stroke-width="2.8"/>
<rect x="1324.4" y="725.5" width="12.7" height="12.7" fill="none" stroke="#f00" stroke-width="2.8"/>
<rect x="1343.1" y="733.2" width="12.7" height="12.7" fill="none" stroke="#f00" stroke-width="2.8"/>
<rect x="1315.1" y="738.3" width="12.7" height="12.7" fill="none" stroke="#f00" stroke-width="2.8"/>
<rect x="1333.8" y="742.5" width="12.7" height="12.7" fill="none" stroke="#f00" stroke-width="2.8"/>
<rect x="1353.3" y="742.5" width="12.7" height="12.7" fill="none" stroke="#f00" stroke-width="2.8"/>
<rect x="1315.1" y="754.4" width="12.7" height="12.7" fill="none" stroke="#f00" stroke-width="2.8"/>
<rect x="1333.8" y="762.1" width="12.7" height="12.7" fill="none" stroke="#f00" stroke-width="2.8"/>
<rect x="1315.1" y="773.1" width="12.7" height="12.7" fill="none" stroke="#f00" stroke-width="2.8"/>
<rect x="1353" y="774.8" width="12.7" height="12.7" fill="none" stroke="#f00" stroke-width="2.8"/>
<rect x="1333.8" y="784.2" width="12.7" height="12.7" fill="none" stroke="#f00" stroke-width="2.8"/>
<path d="M1400.5 549 L1406.6 561.2 L1394.4 561.2 Z" fill="none" stroke="#00f" stroke-width="2.6" stroke-linejoin="miter"/>
<path d="M1419.2 560.1 L1425.3 572.3 L1413.1 572.3 Z" fill="none" stroke="#00f" stroke-width="2.6" stroke-linejoin="miter"/>
<path d="M1419.2 583.6 L1425.3 595.8 L1413.1 595.8 Z" fill="none" stroke="#00f" stroke-width="2.6" stroke-linejoin="miter"/>
<path d="M1438.3 591.6 L1444.4 603.8 L1432.2 603.8 Z" fill="none" stroke="#00f" stroke-width="2.6" stroke-linejoin="miter"/>
<path d="M1400.5 597.7 L1406.6 609.9 L1394.4 609.9 Z" fill="none" stroke="#00f" stroke-width="2.6" stroke-linejoin="miter"/>
<path d="M1419.2 604 L1425.3 616.2 L1413.1 616.2 Z" fill="none" stroke="#00f" stroke-width="2.6" stroke-linejoin="miter"/>
<path d="M1419.2 653.3 L1425.3 665.5 L1413.1 665.5 Z" fill="none" stroke="#00f" stroke-width="2.6" stroke-linejoin="miter"/>
<path d="M1400.5 666.6 L1406.6 678.8 L1394.4 678.8 Z" fill="none" stroke="#00f" stroke-width="2.6" stroke-linejoin="miter"/>
<path d="M1438.3 666.6 L1444.4 678.8 L1432.2 678.8 Z" fill="none" stroke="#00f" stroke-width="2.6" stroke-linejoin="miter"/>
<path d="M1419.2 680.7 L1425.3 692.9 L1413.1 692.9 Z" fill="none" stroke="#00f" stroke-width="2.6" stroke-linejoin="miter"/>
<path d="M1438.3 697.7 L1444.4 709.9 L1432.2 709.9 Z" fill="none" stroke="#00f" stroke-width="2.6" stroke-linejoin="miter"/>
<path d="M1419.2 709.1 L1425.3 721.3 L1413.1 721.3 Z" fill="none" stroke="#00f" stroke-width="2.6" stroke-linejoin="miter"/>
<path d="M1497.5 679.4 L1505.3 687.3 L1497.5 695.2 L1489.6 687.3 Z" fill="none" stroke="#0b0" stroke-width="2.9" stroke-linejoin="miter"/>
<path d="M1516.7 693.7 L1524.6 701.6 L1516.7 709.4 L1508.8 701.6 Z" fill="none" stroke="#0b0" stroke-width="2.9" stroke-linejoin="miter"/>
<path d="M1478.8 700.2 L1486.6 708 L1478.8 715.9 L1470.9 708 Z" fill="none" stroke="#0b0" stroke-width="2.9" stroke-linejoin="miter"/>
<path d="M1497.5 709.5 L1505.3 717.4 L1497.5 725.3 L1489.6 717.4 Z" fill="none" stroke="#0b0" stroke-width="2.9" stroke-linejoin="miter"/>
<path d="M1497.5 737.6 L1505.3 745.5 L1497.5 753.3 L1489.6 745.5 Z" fill="none" stroke="#0b0" stroke-width="2.9" stroke-linejoin="miter"/>
<path d="M1478.8 766 L1486.6 773.9 L1478.8 781.7 L1470.9 773.9 Z" fill="none" stroke="#0b0" stroke-width="2.9" stroke-linejoin="miter"/>
<path d="M1488.1 766 L1496 773.9 L1488.1 781.7 L1480.2 773.9 Z" fill="none" stroke="#0b0" stroke-width="2.9" stroke-linejoin="miter"/>
<path d="M1497.5 770.8 L1505.3 778.6 L1497.5 786.5 L1489.6 778.6 Z" fill="none" stroke="#0b0" stroke-width="2.9" stroke-linejoin="miter"/>
<path d="M1507.7 766 L1515.5 773.9 L1507.7 781.7 L1499.8 773.9 Z" fill="none" stroke="#0b0" stroke-width="2.9" stroke-linejoin="miter"/>
<path d="M1516.7 766 L1524.6 773.9 L1516.7 781.7 L1508.8 773.9 Z" fill="none" stroke="#0b0" stroke-width="2.9" stroke-linejoin="miter"/>
<path d="M1516.7 786.1 L1524.6 793.9 L1516.7 801.8 L1508.8 793.9 Z" fill="none" stroke="#0b0" stroke-width="2.9" stroke-linejoin="miter"/>
<path d="M1497.5 798.8 L1505.3 806.7 L1497.5 814.6 L1489.6 806.7 Z" fill="none" stroke="#0b0" stroke-width="2.9" stroke-linejoin="miter"/>
<line x1="1235.5" y1="711.4" x2="1288.6" y2="711.4" stroke="#000" stroke-width="3" stroke-linecap="butt"/>
<line x1="1250.1" y1="702.6" x2="1275.3" y2="702.6" stroke="#000" stroke-width="4" stroke-linecap="round"/>
<line x1="1250.1" y1="720.8" x2="1275.3" y2="720.8" stroke="#000" stroke-width="4" stroke-linecap="round"/>
<line x1="1262.7" y1="702.6" x2="1262.7" y2="720.8" stroke="#000" stroke-width="3.4" stroke-linecap="butt"/>
<line x1="1314.1" y1="752.6" x2="1366.1" y2="752.6" stroke="#000" stroke-width="3" stroke-linecap="butt"/>
<line x1="1328.4" y1="746.8" x2="1354.4" y2="746.8" stroke="#000" stroke-width="4" stroke-linecap="round"/>
<line x1="1328.4" y1="759.1" x2="1354.4" y2="759.1" stroke="#000" stroke-width="4" stroke-linecap="round"/>
<line x1="1341.4" y1="746.8" x2="1341.4" y2="759.1" stroke="#000" stroke-width="3.4" stroke-linecap="butt"/>
<line x1="1392" y1="636.6" x2="1445.2" y2="636.6" stroke="#000" stroke-width="3" stroke-linecap="butt"/>
<line x1="1406.6" y1="619.9" x2="1432.7" y2="619.9" stroke="#000" stroke-width="4" stroke-linecap="round"/>
<line x1="1406.6" y1="653.1" x2="1432.7" y2="653.1" stroke="#000" stroke-width="4" stroke-linecap="round"/>
<line x1="1419.6" y1="619.9" x2="1419.6" y2="653.1" stroke="#000" stroke-width="3.4" stroke-linecap="butt"/>
<line x1="1471.1" y1="752.3" x2="1523" y2="752.3" stroke="#000" stroke-width="3" stroke-linecap="butt"/>
<line x1="1484.9" y1="740.7" x2="1510.9" y2="740.7" stroke="#000" stroke-width="4" stroke-linecap="round"/>
<line x1="1484.9" y1="764.2" x2="1510.9" y2="764.2" stroke="#000" stroke-width="4" stroke-linecap="round"/>
<line x1="1497.9" y1="740.7" x2="1497.9" y2="764.2" stroke="#000" stroke-width="3.4" stroke-linecap="butt"/>
<line x1="1348.1" y1="497.4" x2="1495.4" y2="497.4" stroke="#000" stroke-width="2.7" stroke-linecap="butt"/>
<text x="1430.5" y="484.7" font-size="28.5" font-weight="bold" text-anchor="middle" fill="#000">n.s.</text>
<line x1="1415" y1="535.7" x2="1495.4" y2="535.7" stroke="#000" stroke-width="2.7" stroke-linecap="butt"/>
<text x="1454.4" y="532" font-size="28" font-weight="bold" text-anchor="middle" fill="#000">***</text>
<line x1="1264.1" y1="608.5" x2="1344.7" y2="608.5" stroke="#000" stroke-width="2.7" stroke-linecap="butt"/>
<text x="1301.9" y="605.6" font-size="28" font-weight="bold" text-anchor="middle" fill="#000">**</text>
<text x="1669.5" y="495" font-size="26" font-weight="bold" text-anchor="start" fill="#000">dCLN</text>
<line x1="1664.5" y1="509.8" x2="1664.5" y2="826" stroke="#000" stroke-width="3.1" stroke-linecap="butt"/>
<line x1="1655" y1="824.5" x2="1978.5" y2="824.5" stroke="#000" stroke-width="3.1" stroke-linecap="butt"/>
<line x1="1655" y1="824.5" x2="1664.5" y2="824.5" stroke="#000" stroke-width="3" stroke-linecap="butt"/>
<line x1="1655" y1="720.1" x2="1664.5" y2="720.1" stroke="#000" stroke-width="3" stroke-linecap="butt"/>
<line x1="1655" y1="615.7" x2="1664.5" y2="615.7" stroke="#000" stroke-width="3" stroke-linecap="butt"/>
<line x1="1655" y1="511.3" x2="1664.5" y2="511.3" stroke="#000" stroke-width="3" stroke-linecap="butt"/>
<line x1="1703.6" y1="824.5" x2="1703.6" y2="834" stroke="#000" stroke-width="3" stroke-linecap="butt"/>
<line x1="1781.8" y1="824.5" x2="1781.8" y2="834" stroke="#000" stroke-width="3" stroke-linecap="butt"/>
<line x1="1860.6" y1="824.5" x2="1860.6" y2="834" stroke="#000" stroke-width="3" stroke-linecap="butt"/>
<line x1="1938.8" y1="824.5" x2="1938.8" y2="834" stroke="#000" stroke-width="3" stroke-linecap="butt"/>
<text transform="translate(1652.5 832.9) scale(0.93 1)" font-size="25" font-weight="bold" text-anchor="end">0</text>
<text transform="translate(1652.5 728.5) scale(0.93 1)" font-size="25" font-weight="bold" text-anchor="end">5</text>
<text transform="translate(1652.5 624.1) scale(0.93 1)" font-size="25" font-weight="bold" text-anchor="end">10</text>
<text transform="translate(1652.5 519.7) scale(0.93 1)" font-size="25" font-weight="bold" text-anchor="end">15</text>
<text x="1619.5" y="658.5" font-size="26" font-weight="bold" text-anchor="middle" fill="#000" transform="rotate(-90 1619.5 658.5)">% CD4<tspan font-size="17" dy="-9">+</tspan><tspan dy="9">Foxp3</tspan><tspan font-size="17" dy="-9">+</tspan><tspan dy="9"> T cells</tspan></text>
<circle cx="1685.2" cy="661.8" r="5.9" fill="none" stroke="#000" stroke-width="2.8"/>
<circle cx="1704.1" cy="671.1" r="5.9" fill="none" stroke="#000" stroke-width="2.8"/>
<circle cx="1723.1" cy="694.4" r="5.9" fill="none" stroke="#000" stroke-width="2.8"/>
<circle cx="1704.1" cy="709.7" r="5.9" fill="none" stroke="#000" stroke-width="2.8"/>
<circle cx="1685.2" cy="733.2" r="5.9" fill="none" stroke="#000" stroke-width="2.8"/>
<circle cx="1695.1" cy="731.9" r="5.9" fill="none" stroke="#000" stroke-width="2.8"/>
<circle cx="1704.1" cy="736.1" r="5.9" fill="none" stroke="#000" stroke-width="2.8"/>
<circle cx="1713.8" cy="731.9" r="5.9" fill="none" stroke="#000" stroke-width="2.8"/>
<circle cx="1723.1" cy="730.2" r="5.9" fill="none" stroke="#000" stroke-width="2.8"/>
<circle cx="1685.2" cy="743.8" r="5.9" fill="none" stroke="#000" stroke-width="2.8"/>
<circle cx="1723.1" cy="744.6" r="5.9" fill="none" stroke="#000" stroke-width="2.8"/>
<circle cx="1704.1" cy="757.4" r="5.9" fill="none" stroke="#000" stroke-width="2.8"/>
<rect x="1775.5" y="701.7" width="12.7" height="12.7" fill="none" stroke="#f00" stroke-width="2.8"/>
<rect x="1775.5" y="723.8" width="12.7" height="12.7" fill="none" stroke="#f00" stroke-width="2.8"/>
<rect x="1766.1" y="736.6" width="12.7" height="12.7" fill="none" stroke="#f00" stroke-width="2.8"/>
<rect x="1784.8" y="736.6" width="12.7" height="12.7" fill="none" stroke="#f00" stroke-width="2.8"/>
<rect x="1756.8" y="743.4" width="12.7" height="12.7" fill="none" stroke="#f00" stroke-width="2.8"/>
<rect x="1794.2" y="742.5" width="12.7" height="12.7" fill="none" stroke="#f00" stroke-width="2.8"/>
<rect x="1775.5" y="745.9" width="12.7" height="12.7" fill="none" stroke="#f00" stroke-width="2.8"/>
<rect x="1756.8" y="761.2" width="12.7" height="12.7" fill="none" stroke="#f00" stroke-width="2.8"/>
<rect x="1775.5" y="757.8" width="12.7" height="12.7" fill="none" stroke="#f00" stroke-width="2.8"/>
<rect x="1784.8" y="760.4" width="12.7" height="12.7" fill="none" stroke="#f00" stroke-width="2.8"/>
<rect x="1794.2" y="768" width="12.7" height="12.7" fill="none" stroke="#f00" stroke-width="2.8"/>
<rect x="1775.5" y="774" width="12.7" height="12.7" fill="none" stroke="#f00" stroke-width="2.8"/>
<path d="M1842.5 681.9 L1848.6 694.1 L1836.4 694.1 Z" fill="none" stroke="#00f" stroke-width="2.6" stroke-linejoin="miter"/>
<path d="M1861.3 683.6 L1867.4 695.8 L1855.2 695.8 Z" fill="none" stroke="#00f" stroke-width="2.6" stroke-linejoin="miter"/>
<path d="M1880.1 678.5 L1886.2 690.7 L1874 690.7 Z" fill="none" stroke="#00f" stroke-width="2.6" stroke-linejoin="miter"/>
<path d="M1861.3 706.5 L1867.4 718.7 L1855.2 718.7 Z" fill="none" stroke="#00f" stroke-width="2.6" stroke-linejoin="miter"/>
<path d="M1852.4 722.7 L1858.5 734.9 L1846.3 734.9 Z" fill="none" stroke="#00f" stroke-width="2.6" stroke-linejoin="miter"/>
<path d="M1871.1 721.9 L1877.2 734.1 L1865 734.1 Z" fill="none" stroke="#00f" stroke-width="2.6" stroke-linejoin="miter"/>
<path d="M1842.5 727.8 L1848.6 740 L1836.4 740 Z" fill="none" stroke="#00f" stroke-width="2.6" stroke-linejoin="miter"/>
<path d="M1880.1 727.8 L1886.2 740 L1874 740 Z" fill="none" stroke="#00f" stroke-width="2.6" stroke-linejoin="miter"/>
<path d="M1861.3 734.6 L1867.4 746.8 L1855.2 746.8 Z" fill="none" stroke="#00f" stroke-width="2.6" stroke-linejoin="miter"/>
<path d="M1842.5 742.3 L1848.6 754.5 L1836.4 754.5 Z" fill="none" stroke="#00f" stroke-width="2.6" stroke-linejoin="miter"/>
<path d="M1880.1 749.1 L1886.2 761.3 L1874 761.3 Z" fill="none" stroke="#00f" stroke-width="2.6" stroke-linejoin="miter"/>
<path d="M1861.3 757.6 L1867.4 769.8 L1855.2 769.8 Z" fill="none" stroke="#00f" stroke-width="2.6" stroke-linejoin="miter"/>
<path d="M1939.5 694.7 L1947.4 702.6 L1939.5 710.5 L1931.6 702.6 Z" fill="none" stroke="#0b0" stroke-width="2.9" stroke-linejoin="miter"/>
<path d="M1939.5 715.5 L1947.4 723.3 L1939.5 731.2 L1931.6 723.3 Z" fill="none" stroke="#0b0" stroke-width="2.9" stroke-linejoin="miter"/>
<path d="M1958.2 740.1 L1966.1 748 L1958.2 755.9 L1950.3 748 Z" fill="none" stroke="#0b0" stroke-width="2.9" stroke-linejoin="miter"/>
<path d="M1939.5 745.2 L1947.4 753.1 L1939.5 761 L1931.6 753.1 Z" fill="none" stroke="#0b0" stroke-width="2.9" stroke-linejoin="miter"/>
<path d="M1920.5 768.2 L1928.3 776.1 L1920.5 783.9 L1912.6 776.1 Z" fill="none" stroke="#0b0" stroke-width="2.9" stroke-linejoin="miter"/>
<path d="M1958.2 764.8 L1966.1 772.7 L1958.2 780.5 L1950.3 772.7 Z" fill="none" stroke="#0b0" stroke-width="2.9" stroke-linejoin="miter"/>
<path d="M1939.5 771.6 L1947.4 779.5 L1939.5 787.3 L1931.6 779.5 Z" fill="none" stroke="#0b0" stroke-width="2.9" stroke-linejoin="miter"/>
<path d="M1920.5 783.5 L1928.3 791.4 L1920.5 799.3 L1912.6 791.4 Z" fill="none" stroke="#0b0" stroke-width="2.9" stroke-linejoin="miter"/>
<path d="M1948.9 781.8 L1956.7 789.7 L1948.9 797.6 L1941 789.7 Z" fill="none" stroke="#0b0" stroke-width="2.9" stroke-linejoin="miter"/>
<path d="M1939.5 792.9 L1947.4 800.7 L1939.5 808.6 L1931.6 800.7 Z" fill="none" stroke="#0b0" stroke-width="2.9" stroke-linejoin="miter"/>
<path d="M1958.2 792 L1966.1 799.9 L1958.2 807.8 L1950.3 799.9 Z" fill="none" stroke="#0b0" stroke-width="2.9" stroke-linejoin="miter"/>
<path d="M1930.7 766.5 L1938.5 774.4 L1930.7 782.2 L1922.8 774.4 Z" fill="none" stroke="#0b0" stroke-width="2.9" stroke-linejoin="miter"/>
<line x1="1676.9" y1="718.8" x2="1729.9" y2="718.8" stroke="#000" stroke-width="3" stroke-linecap="butt"/>
<line x1="1691.8" y1="711.4" x2="1717" y2="711.4" stroke="#000" stroke-width="4" stroke-linecap="round"/>
<line x1="1691.8" y1="727.6" x2="1717" y2="727.6" stroke="#000" stroke-width="4" stroke-linecap="round"/>
<line x1="1704.4" y1="711.4" x2="1704.4" y2="727.6" stroke="#000" stroke-width="3.4" stroke-linecap="butt"/>
<line x1="1755.5" y1="751.8" x2="1808.2" y2="751.8" stroke="#000" stroke-width="3" stroke-linecap="butt"/>
<line x1="1770.1" y1="746.8" x2="1795.3" y2="746.8" stroke="#000" stroke-width="4" stroke-linecap="round"/>
<line x1="1770.1" y1="757.4" x2="1795.3" y2="757.4" stroke="#000" stroke-width="4" stroke-linecap="round"/>
<line x1="1782.7" y1="746.8" x2="1782.7" y2="757.4" stroke="#000" stroke-width="3.4" stroke-linecap="butt"/>
<line x1="1833.7" y1="724.5" x2="1886.4" y2="724.5" stroke="#000" stroke-width="3" stroke-linecap="butt"/>
<line x1="1849.2" y1="717.9" x2="1874.4" y2="717.9" stroke="#000" stroke-width="4" stroke-linecap="round"/>
<line x1="1849.2" y1="733.2" x2="1874.4" y2="733.2" stroke="#000" stroke-width="4" stroke-linecap="round"/>
<line x1="1861.8" y1="717.9" x2="1861.8" y2="733.2" stroke="#000" stroke-width="3.4" stroke-linecap="butt"/>
<line x1="1912.3" y1="767.2" x2="1964.7" y2="767.2" stroke="#000" stroke-width="3" stroke-linecap="butt"/>
<line x1="1926.9" y1="758.2" x2="1952.1" y2="758.2" stroke="#000" stroke-width="4" stroke-linecap="round"/>
<line x1="1926.9" y1="776.1" x2="1952.1" y2="776.1" stroke="#000" stroke-width="4" stroke-linecap="round"/>
<line x1="1939.5" y1="758.2" x2="1939.5" y2="776.1" stroke="#000" stroke-width="3.4" stroke-linecap="butt"/>
<line x1="1793.4" y1="585.2" x2="1940.9" y2="585.2" stroke="#000" stroke-width="2.7" stroke-linecap="butt"/>
<text x="1863.3" y="572.5" font-size="28.5" font-weight="bold" text-anchor="middle" fill="#000">n.s.</text>
<line x1="1709.2" y1="631.3" x2="1790.3" y2="631.3" stroke="#000" stroke-width="2.7" stroke-linecap="butt"/>
<text x="1746.6" y="628.1" font-size="28" font-weight="bold" text-anchor="middle" fill="#000">**</text>
<line x1="1860.4" y1="650.5" x2="1940.9" y2="650.5" stroke="#000" stroke-width="2.7" stroke-linecap="butt"/>
<text x="1897.8" y="647.3" font-size="28" font-weight="bold" text-anchor="middle" fill="#000">**</text>
<text x="1137" y="911.5" font-size="39.5" font-weight="bold" text-anchor="start" fill="#000">f</text>
<text x="1229" y="912.5" font-size="26" font-weight="bold" text-anchor="start" fill="#000">Tumor</text>
<line x1="1219.9" y1="932.6" x2="1219.9" y2="1247.9" stroke="#000" stroke-width="3.1" stroke-linecap="butt"/>
<line x1="1210.5" y1="1246.4" x2="1533.3" y2="1246.4" stroke="#000" stroke-width="3.1" stroke-linecap="butt"/>
<line x1="1210.4" y1="1246.4" x2="1219.9" y2="1246.4" stroke="#000" stroke-width="3" stroke-linecap="butt"/>
<line x1="1210.4" y1="1168.3" x2="1219.9" y2="1168.3" stroke="#000" stroke-width="3" stroke-linecap="butt"/>
<line x1="1210.4" y1="1090.2" x2="1219.9" y2="1090.2" stroke="#000" stroke-width="3" stroke-linecap="butt"/>
<line x1="1210.4" y1="1012.2" x2="1219.9" y2="1012.2" stroke="#000" stroke-width="3" stroke-linecap="butt"/>
<line x1="1210.4" y1="934.1" x2="1219.9" y2="934.1" stroke="#000" stroke-width="3" stroke-linecap="butt"/>
<line x1="1259.3" y1="1246.4" x2="1259.3" y2="1255.9" stroke="#000" stroke-width="3" stroke-linecap="butt"/>
<line x1="1337.2" y1="1246.4" x2="1337.2" y2="1255.9" stroke="#000" stroke-width="3" stroke-linecap="butt"/>
<line x1="1415.5" y1="1246.4" x2="1415.5" y2="1255.9" stroke="#000" stroke-width="3" stroke-linecap="butt"/>
<line x1="1494.1" y1="1246.4" x2="1494.1" y2="1255.9" stroke="#000" stroke-width="3" stroke-linecap="butt"/>
<text transform="translate(1207.9 1254.8) scale(0.93 1)" font-size="25" font-weight="bold" text-anchor="end">0</text>
<text transform="translate(1207.9 1176.7) scale(0.93 1)" font-size="25" font-weight="bold" text-anchor="end">10</text>
<text transform="translate(1207.9 1098.6) scale(0.93 1)" font-size="25" font-weight="bold" text-anchor="end">20</text>
<text transform="translate(1207.9 1020.6) scale(0.93 1)" font-size="25" font-weight="bold" text-anchor="end">30</text>
<text transform="translate(1207.9 942.5) scale(0.93 1)" font-size="25" font-weight="bold" text-anchor="end">40</text>
<text x="1134.5" y="1090" font-size="26" font-weight="bold" text-anchor="middle" fill="#000" transform="rotate(-90 1134.5 1090)">Ratio of CD8<tspan font-size="17" dy="-9">+</tspan><tspan dy="9">Ki67</tspan><tspan font-size="17" dy="-9">+</tspan><tspan dy="9">/</tspan></text>
<text x="1165.5" y="1090" font-size="26" font-weight="bold" text-anchor="middle" fill="#000" transform="rotate(-90 1165.5 1090)">CD4<tspan font-size="17" dy="-9">+</tspan><tspan dy="9">Foxp3</tspan><tspan font-size="17" dy="-9">+</tspan></text>
<circle cx="1239.8" cy="1237.9" r="5.9" fill="none" stroke="#000" stroke-width="2.8"/>
<circle cx="1249.1" cy="1237.9" r="5.9" fill="none" stroke="#000" stroke-width="2.8"/>
<circle cx="1259.3" cy="1219.2" r="5.9" fill="none" stroke="#000" stroke-width="2.8"/>
<circle cx="1259.3" cy="1227.7" r="5.9" fill="none" stroke="#000" stroke-width="2.8"/>
<circle cx="1259.3" cy="1237.9" r="5.9" fill="none" stroke="#000" stroke-width="2.8"/>
<circle cx="1269.5" cy="1237.9" r="5.9" fill="none" stroke="#000" stroke-width="2.8"/>
<circle cx="1279.7" cy="1237.9" r="5.9" fill="none" stroke="#000" stroke-width="2.8"/>
<circle cx="1254.2" cy="1232.8" r="5.9" fill="none" stroke="#000" stroke-width="2.8"/>
<circle cx="1264.4" cy="1232.8" r="5.9" fill="none" stroke="#000" stroke-width="2.8"/>
<circle cx="1259.3" cy="1242.2" r="5.9" fill="none" stroke="#000" stroke-width="2.8"/>
<circle cx="1249.1" cy="1242.2" r="5.9" fill="none" stroke="#000" stroke-width="2.8"/>
<circle cx="1269.5" cy="1242.2" r="5.9" fill="none" stroke="#000" stroke-width="2.8"/>
<rect x="1330.9" y="1133.8" width="12.7" height="12.7" fill="none" stroke="#f00" stroke-width="2.8"/>
<rect x="1312.2" y="1165.2" width="12.7" height="12.7" fill="none" stroke="#f00" stroke-width="2.8"/>
<rect x="1340.6" y="1163.5" width="12.7" height="12.7" fill="none" stroke="#f00" stroke-width="2.8"/>
<rect x="1331.2" y="1169.5" width="12.7" height="12.7" fill="none" stroke="#f00" stroke-width="2.8"/>
<rect x="1349.9" y="1170.3" width="12.7" height="12.7" fill="none" stroke="#f00" stroke-width="2.8"/>
<rect x="1312.2" y="1188.2" width="12.7" height="12.7" fill="none" stroke="#f00" stroke-width="2.8"/>
<rect x="1349.9" y="1188.2" width="12.7" height="12.7" fill="none" stroke="#f00" stroke-width="2.8"/>
<rect x="1331.2" y="1189" width="12.7" height="12.7" fill="none" stroke="#f00" stroke-width="2.8"/>
<rect x="1312.2" y="1206" width="12.7" height="12.7" fill="none" stroke="#f00" stroke-width="2.8"/>
<rect x="1340.6" y="1204.3" width="12.7" height="12.7" fill="none" stroke="#f00" stroke-width="2.8"/>
<rect x="1349.9" y="1209.4" width="12.7" height="12.7" fill="none" stroke="#f00" stroke-width="2.8"/>
<rect x="1330.9" y="1220.5" width="12.7" height="12.7" fill="none" stroke="#f00" stroke-width="2.8"/>
<path d="M1397.6 1214.3 L1403.7 1226.5 L1391.5 1226.5 Z" fill="none" stroke="#00f" stroke-width="2.6" stroke-linejoin="miter"/>
<path d="M1416.2 1214.3 L1422.3 1226.5 L1410.1 1226.5 Z" fill="none" stroke="#00f" stroke-width="2.6" stroke-linejoin="miter"/>
<path d="M1416.2 1222.8 L1422.3 1235 L1410.1 1235 Z" fill="none" stroke="#00f" stroke-width="2.6" stroke-linejoin="miter"/>
<path d="M1397.6 1233 L1403.7 1245.2 L1391.5 1245.2 Z" fill="none" stroke="#00f" stroke-width="2.6" stroke-linejoin="miter"/>
<path d="M1407.3 1231.3 L1413.4 1243.5 L1401.2 1243.5 Z" fill="none" stroke="#00f" stroke-width="2.6" stroke-linejoin="miter"/>
<path d="M1416.2 1234.7 L1422.3 1246.9 L1410.1 1246.9 Z" fill="none" stroke="#00f" stroke-width="2.6" stroke-linejoin="miter"/>
<path d="M1426 1231.3 L1432.1 1243.5 L1419.9 1243.5 Z" fill="none" stroke="#00f" stroke-width="2.6" stroke-linejoin="miter"/>
<path d="M1435.9 1233.9 L1442 1246.1 L1429.8 1246.1 Z" fill="none" stroke="#00f" stroke-width="2.6" stroke-linejoin="miter"/>
<path d="M1412.4 1226.2 L1418.5 1238.4 L1406.3 1238.4 Z" fill="none" stroke="#00f" stroke-width="2.6" stroke-linejoin="miter"/>
<path d="M1420.9 1226.2 L1427 1238.4 L1414.8 1238.4 Z" fill="none" stroke="#00f" stroke-width="2.6" stroke-linejoin="miter"/>
<path d="M1407.3 1235.6 L1413.4 1247.8 L1401.2 1247.8 Z" fill="none" stroke="#00f" stroke-width="2.6" stroke-linejoin="miter"/>
<path d="M1426 1235.6 L1432.1 1247.8 L1419.9 1247.8 Z" fill="none" stroke="#00f" stroke-width="2.6" stroke-linejoin="miter"/>
<path d="M1494.9 1031.2 L1502.8 1039.1 L1494.9 1046.9 L1487 1039.1 Z" fill="none" stroke="#0b0" stroke-width="2.9" stroke-linejoin="miter"/>
<path d="M1476.2 1106.2 L1484.1 1114.1 L1476.2 1121.9 L1468.3 1114.1 Z" fill="none" stroke="#0b0" stroke-width="2.9" stroke-linejoin="miter"/>
<path d="M1494.9 1109.6 L1502.8 1117.5 L1494.9 1125.4 L1487 1117.5 Z" fill="none" stroke="#0b0" stroke-width="2.9" stroke-linejoin="miter"/>
<path d="M1514 1103.3 L1521.8 1111.2 L1514 1119.1 L1506.1 1111.2 Z" fill="none" stroke="#0b0" stroke-width="2.9" stroke-linejoin="miter"/>
<path d="M1514 1115.7 L1521.8 1123.6 L1514 1131.5 L1506.1 1123.6 Z" fill="none" stroke="#0b0" stroke-width="2.9" stroke-linejoin="miter"/>
<path d="M1494.9 1133.1 L1502.8 1141 L1494.9 1148.8 L1487 1141 Z" fill="none" stroke="#0b0" stroke-width="2.9" stroke-linejoin="miter"/>
<path d="M1476.2 1169.7 L1484.1 1177.5 L1476.2 1185.4 L1468.3 1177.5 Z" fill="none" stroke="#0b0" stroke-width="2.9" stroke-linejoin="miter"/>
<path d="M1494.9 1170.5 L1502.8 1178.4 L1494.9 1186.2 L1487 1178.4 Z" fill="none" stroke="#0b0" stroke-width="2.9" stroke-linejoin="miter"/>
<path d="M1476.2 1189.2 L1484.1 1197.1 L1476.2 1205 L1468.3 1197.1 Z" fill="none" stroke="#0b0" stroke-width="2.9" stroke-linejoin="miter"/>
<path d="M1504.3 1186.7 L1512.1 1194.5 L1504.3 1202.4 L1496.4 1194.5 Z" fill="none" stroke="#0b0" stroke-width="2.9" stroke-linejoin="miter"/>
<path d="M1514 1196 L1521.8 1203.9 L1514 1211.8 L1506.1 1203.9 Z" fill="none" stroke="#0b0" stroke-width="2.9" stroke-linejoin="miter"/>
<path d="M1494.9 1203.7 L1502.8 1211.5 L1494.9 1219.4 L1487 1211.5 Z" fill="none" stroke="#0b0" stroke-width="2.9" stroke-linejoin="miter"/>
<line x1="1232.1" y1="1231.1" x2="1285.7" y2="1231.1" stroke="#000" stroke-width="3" stroke-linecap="butt"/>
<line x1="1247.6" y1="1229.4" x2="1271.9" y2="1229.4" stroke="#000" stroke-width="4" stroke-linecap="round"/>
<line x1="1247.6" y1="1233.1" x2="1271.9" y2="1233.1" stroke="#000" stroke-width="4" stroke-linecap="round"/>
<line x1="1259.8" y1="1229.4" x2="1259.8" y2="1233.1" stroke="#000" stroke-width="3.4" stroke-linecap="butt"/>
<line x1="1310.9" y1="1189.9" x2="1363.1" y2="1189.9" stroke="#000" stroke-width="3" stroke-linecap="butt"/>
<line x1="1325.3" y1="1183.5" x2="1350.5" y2="1183.5" stroke="#000" stroke-width="4" stroke-linecap="round"/>
<line x1="1325.3" y1="1197.6" x2="1350.5" y2="1197.6" stroke="#000" stroke-width="4" stroke-linecap="round"/>
<line x1="1337.9" y1="1183.5" x2="1337.9" y2="1197.6" stroke="#000" stroke-width="3.4" stroke-linecap="butt"/>
<line x1="1388.6" y1="1232.8" x2="1442.2" y2="1232.8" stroke="#000" stroke-width="3" stroke-linecap="butt"/>
<line x1="1403.2" y1="1231.4" x2="1428.4" y2="1231.4" stroke="#000" stroke-width="4" stroke-linecap="round"/>
<line x1="1403.2" y1="1236.2" x2="1428.4" y2="1236.2" stroke="#000" stroke-width="4" stroke-linecap="round"/>
<line x1="1415.8" y1="1231.4" x2="1415.8" y2="1236.2" stroke="#000" stroke-width="3.4" stroke-linecap="butt"/>
<line x1="1467.7" y1="1149.8" x2="1520.4" y2="1149.8" stroke="#000" stroke-width="3" stroke-linecap="butt"/>
<line x1="1481.8" y1="1136.7" x2="1507.5" y2="1136.7" stroke="#000" stroke-width="4" stroke-linecap="round"/>
<line x1="1481.8" y1="1166.1" x2="1507.5" y2="1166.1" stroke="#000" stroke-width="4" stroke-linecap="round"/>
<line x1="1494.7" y1="1136.7" x2="1494.7" y2="1166.1" stroke="#000" stroke-width="3.4" stroke-linecap="butt"/>
<line x1="1348.6" y1="972.2" x2="1496.3" y2="972.2" stroke="#000" stroke-width="2.7" stroke-linecap="butt"/>
<text x="1420" y="966.4" font-size="28" font-weight="bold" text-anchor="middle" fill="#000">*</text>
<line x1="1415" y1="1012.2" x2="1495.8" y2="1012.2" stroke="#000" stroke-width="2.7" stroke-linecap="butt"/>
<text x="1457.5" y="1007.8" font-size="28" font-weight="bold" text-anchor="middle" fill="#000">***</text>
<line x1="1252" y1="1109.5" x2="1332.8" y2="1109.5" stroke="#000" stroke-width="2.7" stroke-linecap="butt"/>
<text x="1294.5" y="1106.3" font-size="28" font-weight="bold" text-anchor="middle" fill="#000">***</text>
<text x="1669.5" y="912.5" font-size="26" font-weight="bold" text-anchor="start" fill="#000">dCLN</text>
<line x1="1664.5" y1="927.8" x2="1664.5" y2="1243.7" stroke="#000" stroke-width="3.1" stroke-linecap="butt"/>
<line x1="1655" y1="1242.2" x2="2000" y2="1242.2" stroke="#000" stroke-width="3.1" stroke-linecap="butt"/>
<line x1="1655" y1="1242.2" x2="1664.5" y2="1242.2" stroke="#000" stroke-width="3" stroke-linecap="butt"/>
<line x1="1655" y1="1164" x2="1664.5" y2="1164" stroke="#000" stroke-width="3" stroke-linecap="butt"/>
<line x1="1655" y1="1085.8" x2="1664.5" y2="1085.8" stroke="#000" stroke-width="3" stroke-linecap="butt"/>
<line x1="1655" y1="1007.5" x2="1664.5" y2="1007.5" stroke="#000" stroke-width="3" stroke-linecap="butt"/>
<line x1="1655" y1="929.3" x2="1664.5" y2="929.3" stroke="#000" stroke-width="3" stroke-linecap="butt"/>
<line x1="1705.6" y1="1242.2" x2="1705.6" y2="1251.7" stroke="#000" stroke-width="3" stroke-linecap="butt"/>
<line x1="1788.6" y1="1242.2" x2="1788.6" y2="1251.7" stroke="#000" stroke-width="3" stroke-linecap="butt"/>
<line x1="1871.1" y1="1242.2" x2="1871.1" y2="1251.7" stroke="#000" stroke-width="3" stroke-linecap="butt"/>
<line x1="1954.5" y1="1242.2" x2="1954.5" y2="1251.7" stroke="#000" stroke-width="3" stroke-linecap="butt"/>
<text transform="translate(1652.5 1250.6) scale(0.93 1)" font-size="25" font-weight="bold" text-anchor="end">0</text>
<text transform="translate(1652.5 1172.4) scale(0.93 1)" font-size="25" font-weight="bold" text-anchor="end">20</text>
<text transform="translate(1652.5 1094.2) scale(0.93 1)" font-size="25" font-weight="bold" text-anchor="end">40</text>
<text transform="translate(1652.5 1015.9) scale(0.93 1)" font-size="25" font-weight="bold" text-anchor="end">60</text>
<text transform="translate(1652.5 937.7) scale(0.93 1)" font-size="25" font-weight="bold" text-anchor="end">80</text>
<text x="1582.3" y="1090" font-size="26" font-weight="bold" text-anchor="middle" fill="#000" transform="rotate(-90 1582.3 1090)">Ratio of CD8<tspan font-size="17" dy="-9">+</tspan><tspan dy="9">Ki67</tspan><tspan font-size="17" dy="-9">+</tspan><tspan dy="9">/</tspan></text>
<text x="1613.3" y="1090" font-size="26" font-weight="bold" text-anchor="middle" fill="#000" transform="rotate(-90 1613.3 1090)">CD4<tspan font-size="17" dy="-9">+</tspan><tspan dy="9">Foxp3</tspan><tspan font-size="17" dy="-9">+</tspan></text>
<circle cx="1684.9" cy="1236.2" r="5.9" fill="none" stroke="#000" stroke-width="2.8"/>
<circle cx="1684.9" cy="1242.2" r="5.9" fill="none" stroke="#000" stroke-width="2.8"/>
<circle cx="1694.2" cy="1239.6" r="5.9" fill="none" stroke="#000" stroke-width="2.8"/>
<circle cx="1706.1" cy="1232.8" r="5.9" fill="none" stroke="#000" stroke-width="2.8"/>
<circle cx="1706.1" cy="1239.6" r="5.9" fill="none" stroke="#000" stroke-width="2.8"/>
<circle cx="1706.1" cy="1244.7" r="5.9" fill="none" stroke="#000" stroke-width="2.8"/>
<circle cx="1715.5" cy="1239.6" r="5.9" fill="none" stroke="#000" stroke-width="2.8"/>
<circle cx="1724" cy="1239.6" r="5.9" fill="none" stroke="#000" stroke-width="2.8"/>
<circle cx="1728.2" cy="1234.5" r="5.9" fill="none" stroke="#000" stroke-width="2.8"/>
<circle cx="1724.8" cy="1243.9" r="5.9" fill="none" stroke="#000" stroke-width="2.8"/>
<circle cx="1699.3" cy="1236.2" r="5.9" fill="none" stroke="#000" stroke-width="2.8"/>
<circle cx="1712.9" cy="1236.2" r="5.9" fill="none" stroke="#000" stroke-width="2.8"/>
<rect x="1799.8" y="1165.7" width="12.7" height="12.7" fill="none" stroke="#f00" stroke-width="2.8"/>
<rect x="1780.9" y="1180" width="12.7" height="12.7" fill="none" stroke="#f00" stroke-width="2.8"/>
<rect x="1771.2" y="1195" width="12.7" height="12.7" fill="none" stroke="#f00" stroke-width="2.8"/>
<rect x="1799.8" y="1196.7" width="12.7" height="12.7" fill="none" stroke="#f00" stroke-width="2.8"/>
<rect x="1761.9" y="1200.1" width="12.7" height="12.7" fill="none" stroke="#f00" stroke-width="2.8"/>
<rect x="1780.9" y="1204.3" width="12.7" height="12.7" fill="none" stroke="#f00" stroke-width="2.8"/>
<rect x="1789.9" y="1207.7" width="12.7" height="12.7" fill="none" stroke="#f00" stroke-width="2.8"/>
<rect x="1761.9" y="1216.3" width="12.7" height="12.7" fill="none" stroke="#f00" stroke-width="2.8"/>
<rect x="1771.2" y="1212.8" width="12.7" height="12.7" fill="none" stroke="#f00" stroke-width="2.8"/>
<rect x="1780.9" y="1224.8" width="12.7" height="12.7" fill="none" stroke="#f00" stroke-width="2.8"/>
<rect x="1799.8" y="1222.2" width="12.7" height="12.7" fill="none" stroke="#f00" stroke-width="2.8"/>
<rect x="1789.9" y="1214.6" width="12.7" height="12.7" fill="none" stroke="#f00" stroke-width="2.8"/>
<path d="M1850.7 1226.2 L1856.8 1238.4 L1844.6 1238.4 Z" fill="none" stroke="#00f" stroke-width="2.6" stroke-linejoin="miter"/>
<path d="M1860.9 1231.3 L1867 1243.5 L1854.8 1243.5 Z" fill="none" stroke="#00f" stroke-width="2.6" stroke-linejoin="miter"/>
<path d="M1872 1226.2 L1878.1 1238.4 L1865.9 1238.4 Z" fill="none" stroke="#00f" stroke-width="2.6" stroke-linejoin="miter"/>
<path d="M1881.3 1231.3 L1887.4 1243.5 L1875.2 1243.5 Z" fill="none" stroke="#00f" stroke-width="2.6" stroke-linejoin="miter"/>
<path d="M1892.4 1228.8 L1898.5 1241 L1886.3 1241 Z" fill="none" stroke="#00f" stroke-width="2.6" stroke-linejoin="miter"/>
<path d="M1850.7 1235.6 L1856.8 1247.8 L1844.6 1247.8 Z" fill="none" stroke="#00f" stroke-width="2.6" stroke-linejoin="miter"/>
<path d="M1872 1235.6 L1878.1 1247.8 L1865.9 1247.8 Z" fill="none" stroke="#00f" stroke-width="2.6" stroke-linejoin="miter"/>
<path d="M1892.4 1235.6 L1898.5 1247.8 L1886.3 1247.8 Z" fill="none" stroke="#00f" stroke-width="2.6" stroke-linejoin="miter"/>
<path d="M1866 1229.6 L1872.1 1241.8 L1859.9 1241.8 Z" fill="none" stroke="#00f" stroke-width="2.6" stroke-linejoin="miter"/>
<path d="M1876.2 1229.6 L1882.3 1241.8 L1870.1 1241.8 Z" fill="none" stroke="#00f" stroke-width="2.6" stroke-linejoin="miter"/>
<path d="M1855.8 1233 L1861.9 1245.2 L1849.7 1245.2 Z" fill="none" stroke="#00f" stroke-width="2.6" stroke-linejoin="miter"/>
<path d="M1886.4 1233 L1892.5 1245.2 L1880.3 1245.2 Z" fill="none" stroke="#00f" stroke-width="2.6" stroke-linejoin="miter"/>
<path d="M1955 989.9 L1962.9 997.7 L1955 1005.6 L1947.1 997.7 Z" fill="none" stroke="#0b0" stroke-width="2.9" stroke-linejoin="miter"/>
<path d="M1955 1069.3 L1962.9 1077.2 L1955 1085 L1947.1 1077.2 Z" fill="none" stroke="#0b0" stroke-width="2.9" stroke-linejoin="miter"/>
<path d="M1955 1111.5 L1962.9 1119.4 L1955 1127.2 L1947.1 1119.4 Z" fill="none" stroke="#0b0" stroke-width="2.9" stroke-linejoin="miter"/>
<path d="M1936.3 1147.5 L1944.1 1155.4 L1936.3 1163.3 L1928.4 1155.4 Z" fill="none" stroke="#0b0" stroke-width="2.9" stroke-linejoin="miter"/>
<path d="M1974 1147.5 L1981.9 1155.4 L1974 1163.3 L1966.2 1155.4 Z" fill="none" stroke="#0b0" stroke-width="2.9" stroke-linejoin="miter"/>
<path d="M1955 1154.3 L1962.9 1162.2 L1955 1170.1 L1947.1 1162.2 Z" fill="none" stroke="#0b0" stroke-width="2.9" stroke-linejoin="miter"/>
<path d="M1974 1173.1 L1981.9 1180.9 L1974 1188.8 L1966.2 1180.9 Z" fill="none" stroke="#0b0" stroke-width="2.9" stroke-linejoin="miter"/>
<path d="M1955 1177.3 L1962.9 1185.2 L1955 1193.1 L1947.1 1185.2 Z" fill="none" stroke="#0b0" stroke-width="2.9" stroke-linejoin="miter"/>
<path d="M1974 1183.3 L1981.9 1191.1 L1974 1199 L1966.2 1191.1 Z" fill="none" stroke="#0b0" stroke-width="2.9" stroke-linejoin="miter"/>
<path d="M1936.3 1191.8 L1944.1 1199.6 L1936.3 1207.5 L1928.4 1199.6 Z" fill="none" stroke="#0b0" stroke-width="2.9" stroke-linejoin="miter"/>
<path d="M1955 1197.7 L1962.9 1205.6 L1955 1213.5 L1947.1 1205.6 Z" fill="none" stroke="#0b0" stroke-width="2.9" stroke-linejoin="miter"/>
<path d="M1955 1218.1 L1962.9 1226 L1955 1233.9 L1947.1 1226 Z" fill="none" stroke="#0b0" stroke-width="2.9" stroke-linejoin="miter"/>
<line x1="1678.9" y1="1238.8" x2="1733.3" y2="1238.8" stroke="#000" stroke-width="3" stroke-linecap="butt"/>
<line x1="1693.5" y1="1237.1" x2="1718.7" y2="1237.1" stroke="#000" stroke-width="4" stroke-linecap="round"/>
<line x1="1693.5" y1="1240.5" x2="1718.7" y2="1240.5" stroke="#000" stroke-width="4" stroke-linecap="round"/>
<line x1="1706.1" y1="1237.1" x2="1706.1" y2="1240.5" stroke="#000" stroke-width="3.4" stroke-linecap="butt"/>
<line x1="1760.9" y1="1209.8" x2="1816.7" y2="1209.8" stroke="#000" stroke-width="3" stroke-linecap="butt"/>
<line x1="1774.3" y1="1205.6" x2="1803.8" y2="1205.6" stroke="#000" stroke-width="4" stroke-linecap="round"/>
<line x1="1774.3" y1="1214.6" x2="1803.8" y2="1214.6" stroke="#000" stroke-width="4" stroke-linecap="round"/>
<line x1="1789.1" y1="1205.6" x2="1789.1" y2="1214.6" stroke="#000" stroke-width="3.4" stroke-linecap="butt"/>
<line x1="1844.8" y1="1237.9" x2="1899.2" y2="1237.9" stroke="#000" stroke-width="3" stroke-linecap="butt"/>
<line x1="1860.2" y1="1236.5" x2="1883.7" y2="1236.5" stroke="#000" stroke-width="4" stroke-linecap="round"/>
<line x1="1860.2" y1="1239.3" x2="1883.7" y2="1239.3" stroke="#000" stroke-width="4" stroke-linecap="round"/>
<line x1="1872" y1="1236.5" x2="1872" y2="1239.3" stroke="#000" stroke-width="3.4" stroke-linecap="butt"/>
<line x1="1926.4" y1="1155.1" x2="1983.4" y2="1155.1" stroke="#000" stroke-width="3" stroke-linecap="butt"/>
<line x1="1941" y1="1137" x2="1969.6" y2="1137" stroke="#000" stroke-width="4" stroke-linecap="round"/>
<line x1="1941" y1="1174.6" x2="1969.6" y2="1174.6" stroke="#000" stroke-width="4" stroke-linecap="round"/>
<line x1="1955.3" y1="1137" x2="1955.3" y2="1174.6" stroke="#000" stroke-width="3.4" stroke-linecap="butt"/>
<line x1="1807.7" y1="931" x2="1955.3" y2="931" stroke="#000" stroke-width="2.7" stroke-linecap="butt"/>
<text x="1885.2" y="925.6" font-size="28" font-weight="bold" text-anchor="middle" fill="#000">**</text>
<line x1="1874" y1="971.3" x2="1954.5" y2="971.3" stroke="#000" stroke-width="2.7" stroke-linecap="butt"/>
<text x="1916.5" y="966.4" font-size="28" font-weight="bold" text-anchor="middle" fill="#000">***</text>
<line x1="1711.2" y1="1137" x2="1791.7" y2="1137" stroke="#000" stroke-width="2.7" stroke-linecap="butt"/>
<text x="1756.8" y="1137.2" font-size="28" font-weight="bold" text-anchor="middle" fill="#000">***</text>
</svg>
</body>
</html>
